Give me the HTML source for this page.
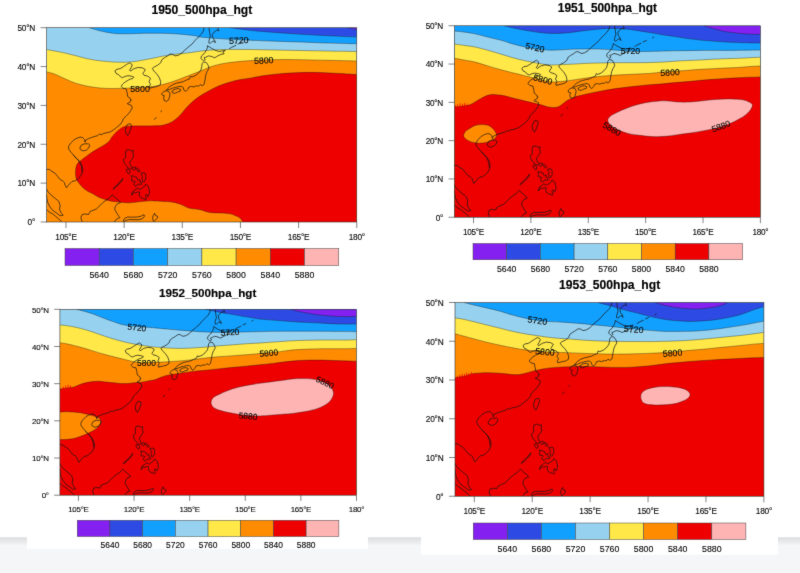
<!DOCTYPE html>
<html><head><meta charset="utf-8"><title>500hpa hgt</title>
<style>
html,body{margin:0;padding:0;background:#fff}
svg{display:block}
text{font-family:"Liberation Sans",Arial,Helvetica,sans-serif;fill:#0a0a0a;stroke:#0a0a0a;stroke-width:.12px}
.t{stroke:#000;stroke-width:.15px}
.c2,.y{letter-spacing:-.25px}
.t{font-weight:bold;text-anchor:middle;fill:#000}
.c{text-anchor:middle}
.y{text-anchor:end}
.k{stroke:#333;stroke-width:.6;fill:none}
.cn{stroke:#1a1a1a;stroke-width:.45;fill:none;stroke-opacity:.8}
.co{stroke:#161616;stroke-width:.72;fill:none;stroke-linejoin:round;stroke-linecap:round}
</style></head><body>
<svg width="800" height="573" viewBox="0 0 800 573">
<defs>
<linearGradient id="gb" x1="0" y1="0" x2="0" y2="1"><stop offset="0" stop-color="#dcdddf"/><stop offset=".1" stop-color="#e6e7e9"/><stop offset=".2" stop-color="#f1f2f4"/><stop offset=".22" stop-color="#f4f6f8"/><stop offset="1" stop-color="#f4f6f8"/></linearGradient>
</defs>
<filter id="soft" x="-2%" y="-2%" width="104%" height="104%" color-interpolation-filters="sRGB"><feConvolveMatrix order="3" kernelMatrix="0.0081 0.0738 0.0081 0.0738 0.6724 0.0738 0.0081 0.0738 0.0081" divisor="1" edgeMode="duplicate" preserveAlpha="true"/></filter>
<g filter="url(#soft)">
<rect x="-20" y="-20" width="840" height="613" fill="#fff"/>
<rect x="-20" y="537.25" width="840" height="36" fill="url(#gb)"/>
<rect x="-20" y="573" width="840" height="20" fill="#f4f6f8"/>
<rect x="27" y="283" width="341" height="265.8" fill="#fff"/>
<rect x="421" y="283" width="357" height="271.6" fill="#fff"/>

<g id="panel1">
<clipPath id="cp0"><rect x="46.6" y="27.7" width="310.15" height="194.30"/></clipPath>
<g clip-path="url(#cp0)">
<rect x="46.6" y="27.7" width="310.15" height="194.30" fill="#96D2F0"/>
<path d="M89.0,27.7C90.8,28.2 96.1,29.8 100.0,30.8C103.9,31.7 108.3,32.8 112.5,33.2C116.7,33.8 118.8,33.8 125.0,33.8C131.2,33.8 141.7,33.2 150.0,33.2C158.3,33.2 167.5,33.3 175.0,33.8C182.5,34.2 190.8,35.2 195.0,35.8C199.2,36.3 195.0,36.5 200.0,37.0C205.0,37.5 216.7,38.5 225.0,39.0C233.3,39.5 241.7,39.9 250.0,40.2C258.3,40.6 266.7,41.0 275.0,41.2C283.3,41.5 291.7,41.7 300.0,42.0C308.3,42.3 315.5,42.7 325.0,43.0C334.5,43.3 351.5,43.6 356.8,43.8L356.8,27.7Z" fill="#12A0FF"/>
<path d="M89.0,27.7C90.8,28.2 96.1,29.8 100.0,30.8C103.9,31.7 108.3,32.8 112.5,33.2C116.7,33.8 118.8,33.8 125.0,33.8C131.2,33.8 141.7,33.2 150.0,33.2C158.3,33.2 167.5,33.3 175.0,33.8C182.5,34.2 190.8,35.2 195.0,35.8C199.2,36.3 195.0,36.5 200.0,37.0C205.0,37.5 216.7,38.5 225.0,39.0C233.3,39.5 241.7,39.9 250.0,40.2C258.3,40.6 266.7,41.0 275.0,41.2C283.3,41.5 291.7,41.7 300.0,42.0C308.3,42.3 315.5,42.7 325.0,43.0C334.5,43.3 351.5,43.6 356.8,43.8" class="cn"/>
<path d="M229.0,27.7C230.8,27.9 236.5,28.6 240.0,29.0C243.5,29.4 246.7,29.9 250.0,30.3C253.3,30.7 254.2,30.8 260.0,31.3C265.8,31.8 276.7,32.6 285.0,33.2C293.3,33.8 301.7,34.3 310.0,34.8C318.3,35.3 327.2,35.7 335.0,36.1C342.8,36.5 353.1,36.9 356.8,37.0L356.8,27.7Z" fill="#2D4BE4"/>
<path d="M229.0,27.7C230.8,27.9 236.5,28.6 240.0,29.0C243.5,29.4 246.7,29.9 250.0,30.3C253.3,30.7 254.2,30.8 260.0,31.3C265.8,31.8 276.7,32.6 285.0,33.2C293.3,33.8 301.7,34.3 310.0,34.8C318.3,35.3 327.2,35.7 335.0,36.1C342.8,36.5 353.1,36.9 356.8,37.0" class="cn"/>
<path d="M347.5,27.7 L356.8,29.5L356.8,27.7Z" fill="#8420F0"/>
<path d="M347.5,27.7 L356.8,29.5" class="cn"/>
<path d="M46.6,49.5C49.2,50.0 57.8,51.5 62.5,52.5C67.2,53.5 70.8,54.5 75.0,55.5C79.2,56.5 83.3,57.9 87.5,58.8C91.7,59.6 95.0,60.2 100.0,60.8C105.0,61.3 112.1,62.1 117.5,62.2C122.9,62.4 127.1,62.3 132.5,61.8C137.9,61.2 145.0,59.7 150.0,58.8C155.0,57.8 158.3,57.0 162.5,56.2C166.7,55.5 170.8,54.8 175.0,54.2C179.2,53.7 183.3,53.5 187.5,53.0C191.7,52.5 195.8,51.8 200.0,51.2C204.2,50.8 208.3,50.3 212.5,50.0C216.7,49.7 218.8,49.6 225.0,49.5C231.2,49.4 241.7,49.4 250.0,49.5C258.3,49.6 266.7,49.8 275.0,50.0C283.3,50.2 291.7,50.3 300.0,50.5C308.3,50.7 315.5,50.8 325.0,51.0C334.5,51.2 351.5,51.4 356.8,51.5L356.8,222.0 L46.6,222.0Z" fill="#FFE848"/>
<path d="M46.6,49.5C49.2,50.0 57.8,51.5 62.5,52.5C67.2,53.5 70.8,54.5 75.0,55.5C79.2,56.5 83.3,57.9 87.5,58.8C91.7,59.6 95.0,60.2 100.0,60.8C105.0,61.3 112.1,62.1 117.5,62.2C122.9,62.4 127.1,62.3 132.5,61.8C137.9,61.2 145.0,59.7 150.0,58.8C155.0,57.8 158.3,57.0 162.5,56.2C166.7,55.5 170.8,54.8 175.0,54.2C179.2,53.7 183.3,53.5 187.5,53.0C191.7,52.5 195.8,51.8 200.0,51.2C204.2,50.8 208.3,50.3 212.5,50.0C216.7,49.7 218.8,49.6 225.0,49.5C231.2,49.4 241.7,49.4 250.0,49.5C258.3,49.6 266.7,49.8 275.0,50.0C283.3,50.2 291.7,50.3 300.0,50.5C308.3,50.7 315.5,50.8 325.0,51.0C334.5,51.2 351.5,51.4 356.8,51.5" class="cn"/>
<path d="M46.6,71.8C48.0,72.2 51.9,73.1 55.0,74.2C58.1,75.4 61.7,77.3 65.0,78.8C68.3,80.2 71.2,81.8 75.0,83.0C78.8,84.2 83.3,85.4 87.5,86.2C91.7,87.1 95.8,87.6 100.0,88.0C104.2,88.4 108.3,88.5 112.5,88.5C116.7,88.5 120.4,88.4 125.0,88.2C129.6,88.1 135.0,87.8 140.0,87.5C145.0,87.2 150.0,87.1 155.0,86.2C160.0,85.4 165.0,84.0 170.0,82.5C175.0,81.0 180.0,78.9 185.0,77.0C190.0,75.1 195.8,72.9 200.0,71.2C204.2,69.6 206.7,68.2 210.0,67.0C213.3,65.8 216.7,65.0 220.0,64.2C223.3,63.5 225.8,63.0 230.0,62.5C234.2,62.0 239.6,61.4 245.0,61.0C250.4,60.6 255.4,60.2 262.5,60.0C269.6,59.8 279.2,59.5 287.5,59.5C295.8,59.5 304.2,59.8 312.5,60.0C320.8,60.2 330.1,60.3 337.5,60.5C344.9,60.7 353.5,60.9 356.8,61.0L356.8,222.0 L46.6,222.0Z" fill="#FF8C00"/>
<path d="M46.6,71.8C48.0,72.2 51.9,73.1 55.0,74.2C58.1,75.4 61.7,77.3 65.0,78.8C68.3,80.2 71.2,81.8 75.0,83.0C78.8,84.2 83.3,85.4 87.5,86.2C91.7,87.1 95.8,87.6 100.0,88.0C104.2,88.4 108.3,88.5 112.5,88.5C116.7,88.5 120.4,88.4 125.0,88.2C129.6,88.1 135.0,87.8 140.0,87.5C145.0,87.2 150.0,87.1 155.0,86.2C160.0,85.4 165.0,84.0 170.0,82.5C175.0,81.0 180.0,78.9 185.0,77.0C190.0,75.1 195.8,72.9 200.0,71.2C204.2,69.6 206.7,68.2 210.0,67.0C213.3,65.8 216.7,65.0 220.0,64.2C223.3,63.5 225.8,63.0 230.0,62.5C234.2,62.0 239.6,61.4 245.0,61.0C250.4,60.6 255.4,60.2 262.5,60.0C269.6,59.8 279.2,59.5 287.5,59.5C295.8,59.5 304.2,59.8 312.5,60.0C320.8,60.2 330.1,60.3 337.5,60.5C344.9,60.7 353.5,60.9 356.8,61.0" class="cn"/>
<path d="M356.8,74.5C354.0,74.3 346.1,73.8 340.0,73.5C333.9,73.2 326.7,72.7 320.0,72.5C313.3,72.3 306.7,72.3 300.0,72.5C293.3,72.7 286.2,73.2 280.0,73.8C273.8,74.3 267.5,75.0 262.5,75.8C257.5,76.5 253.7,77.6 250.0,78.2C246.3,78.8 243.8,78.9 240.5,79.5C237.2,80.1 234.0,81.0 230.4,82.0C226.8,83.0 222.6,84.3 219.0,85.8C215.4,87.2 212.1,89.1 209.0,90.8C205.9,92.5 203.0,94.0 200.3,95.8C197.6,97.6 195.0,99.5 192.7,101.5C190.4,103.5 188.5,105.4 186.4,107.7C184.3,110.0 182.3,113.0 180.0,115.3C177.7,117.6 175.5,119.8 172.6,121.5C169.7,123.2 166.3,124.5 162.5,125.3C158.7,126.0 154.1,125.9 150.0,126.0C145.9,126.1 142.1,125.9 138.0,126.0C133.9,126.1 128.2,125.9 125.3,126.4C122.3,126.9 122.0,127.8 120.3,128.9C118.6,130.1 116.8,131.8 115.3,133.3C113.8,134.8 112.7,136.2 111.5,137.7C110.3,139.2 109.9,140.7 108.4,142.1C106.9,143.5 104.7,144.7 102.7,145.9C100.7,147.2 98.5,148.3 96.4,149.6C94.3,150.8 92.1,152.1 90.2,153.4C88.3,154.7 86.8,155.9 85.1,157.2C83.4,158.5 81.5,159.8 80.2,161.0C78.9,162.2 77.8,162.9 77.1,164.2C76.4,165.5 76.0,166.8 75.8,168.6C75.5,170.4 75.5,173.0 75.6,174.8C75.7,176.6 75.9,177.8 76.4,179.2C77.0,180.6 77.9,181.6 78.9,183.0C80.0,184.4 81.2,186.0 82.7,187.4C84.2,188.8 86.0,190.1 87.7,191.2C89.4,192.2 91.1,192.8 92.8,193.7C94.5,194.6 96.1,196.0 97.8,196.8C99.5,197.6 100.8,198.0 102.8,198.7C104.8,199.4 107.8,200.4 110.0,200.9C112.2,201.4 114.2,201.6 116.3,201.8C118.4,202.1 120.5,202.2 122.6,202.4C124.7,202.6 126.8,202.8 128.9,202.8C131.0,202.8 133.1,202.4 135.2,202.2C137.3,202.0 139.4,201.8 141.5,201.6C143.6,201.4 145.6,201.0 147.7,200.9C149.8,200.8 151.9,200.9 154.0,200.9C156.1,200.9 158.2,201.1 160.3,201.2C162.4,201.3 164.5,201.4 166.6,201.6C168.7,201.8 171.0,201.9 172.9,202.2C174.8,202.5 176.2,202.9 177.9,203.4C179.6,203.9 181.2,204.6 182.9,205.3C184.6,206.0 186.2,207.2 187.9,207.8C189.6,208.4 191.0,208.5 193.0,208.8C195.0,209.1 197.2,209.1 200.0,209.7C202.8,210.3 206.7,211.9 210.0,212.5C213.3,213.1 216.7,212.8 220.0,213.0C223.3,213.2 227.5,213.3 230.0,213.8C232.5,214.2 233.3,214.8 235.0,215.5C236.7,216.2 238.7,216.9 240.0,218.0C241.3,219.1 242.5,221.3 243.0,222.0L356.8,222.0Z" fill="#EE0000"/>
<path d="M356.8,74.5C354.0,74.3 346.1,73.8 340.0,73.5C333.9,73.2 326.7,72.7 320.0,72.5C313.3,72.3 306.7,72.3 300.0,72.5C293.3,72.7 286.2,73.2 280.0,73.8C273.8,74.3 267.5,75.0 262.5,75.8C257.5,76.5 253.7,77.6 250.0,78.2C246.3,78.8 243.8,78.9 240.5,79.5C237.2,80.1 234.0,81.0 230.4,82.0C226.8,83.0 222.6,84.3 219.0,85.8C215.4,87.2 212.1,89.1 209.0,90.8C205.9,92.5 203.0,94.0 200.3,95.8C197.6,97.6 195.0,99.5 192.7,101.5C190.4,103.5 188.5,105.4 186.4,107.7C184.3,110.0 182.3,113.0 180.0,115.3C177.7,117.6 175.5,119.8 172.6,121.5C169.7,123.2 166.3,124.5 162.5,125.3C158.7,126.0 154.1,125.9 150.0,126.0C145.9,126.1 142.1,125.9 138.0,126.0C133.9,126.1 128.2,125.9 125.3,126.4C122.3,126.9 122.0,127.8 120.3,128.9C118.6,130.1 116.8,131.8 115.3,133.3C113.8,134.8 112.7,136.2 111.5,137.7C110.3,139.2 109.9,140.7 108.4,142.1C106.9,143.5 104.7,144.7 102.7,145.9C100.7,147.2 98.5,148.3 96.4,149.6C94.3,150.8 92.1,152.1 90.2,153.4C88.3,154.7 86.8,155.9 85.1,157.2C83.4,158.5 81.5,159.8 80.2,161.0C78.9,162.2 77.8,162.9 77.1,164.2C76.4,165.5 76.0,166.8 75.8,168.6C75.5,170.4 75.5,173.0 75.6,174.8C75.7,176.6 75.9,177.8 76.4,179.2C77.0,180.6 77.9,181.6 78.9,183.0C80.0,184.4 81.2,186.0 82.7,187.4C84.2,188.8 86.0,190.1 87.7,191.2C89.4,192.2 91.1,192.8 92.8,193.7C94.5,194.6 96.1,196.0 97.8,196.8C99.5,197.6 100.8,198.0 102.8,198.7C104.8,199.4 107.8,200.4 110.0,200.9C112.2,201.4 114.2,201.6 116.3,201.8C118.4,202.1 120.5,202.2 122.6,202.4C124.7,202.6 126.8,202.8 128.9,202.8C131.0,202.8 133.1,202.4 135.2,202.2C137.3,202.0 139.4,201.8 141.5,201.6C143.6,201.4 145.6,201.0 147.7,200.9C149.8,200.8 151.9,200.9 154.0,200.9C156.1,200.9 158.2,201.1 160.3,201.2C162.4,201.3 164.5,201.4 166.6,201.6C168.7,201.8 171.0,201.9 172.9,202.2C174.8,202.5 176.2,202.9 177.9,203.4C179.6,203.9 181.2,204.6 182.9,205.3C184.6,206.0 186.2,207.2 187.9,207.8C189.6,208.4 191.0,208.5 193.0,208.8C195.0,209.1 197.2,209.1 200.0,209.7C202.8,210.3 206.7,211.9 210.0,212.5C213.3,213.1 216.7,212.8 220.0,213.0C223.3,213.2 227.5,213.3 230.0,213.8C232.5,214.2 233.3,214.8 235.0,215.5C236.7,216.2 238.7,216.9 240.0,218.0C241.3,219.1 242.5,221.3 243.0,222.0" class="cn"/>
<path d="M111.0,138.0L111.5,136.4L112.0,138.0ZM112.9,135.8L113.4,134.2L113.9,135.8ZM114.8,133.6L115.3,132.0L115.8,133.6ZM116.5,132.1L117.0,130.5L117.5,132.1ZM118.1,130.7L118.6,129.1L119.1,130.7ZM119.8,129.2L120.3,127.6L120.8,129.2ZM122.3,128.0L122.8,126.4L123.3,128.0ZM124.8,126.7L125.3,125.1L125.8,126.7ZM127.3,126.6L127.8,125.0L128.3,126.6ZM129.9,126.5L130.4,124.9L130.9,126.5ZM132.4,126.5L132.9,124.9L133.4,126.5ZM135.0,126.4L135.5,124.8L136.0,126.4ZM137.5,126.3L138.0,124.7L138.5,126.3ZM139.9,126.3L140.4,124.7L140.9,126.3ZM142.3,126.3L142.8,124.7L143.3,126.3ZM144.7,126.3L145.2,124.7L145.7,126.3ZM147.1,126.3L147.6,124.7L148.1,126.3ZM149.5,126.3L150.0,124.7L150.5,126.3ZM152.0,126.2L152.5,124.7L153.0,126.2ZM154.5,126.2L155.0,124.6L155.5,126.2ZM157.0,126.1L157.5,124.5L158.0,126.1Z" fill="#EE0000"/>
<path class="co" d="M204.0,28.0 L203.4,30.9 L201.5,34.0 L198.4,37.1 L195.2,40.3 L192.1,44.0 L188.3,47.1 L184.5,50.3 L182.0,53.0 L178.3,55.3 L175.1,55.9 L172.6,54.3 L170.1,54.0 L167.6,55.9 L164.4,57.8 L161.9,59.7 L160.7,62.8 L157.5,65.3 L153.8,67.2 L152.3,68.4 L153.8,70.9 L156.9,74.1 L159.4,77.8 L160.7,81.6 L160.4,84.7 L157.5,86.3 L153.8,87.2 L150.0,88.1 M150.0,87.7 L149.0,87.1 L150.5,84.2 L149.0,81.7 L150.5,78.3 L147.8,76.2 L144.0,75.2 L142.8,73.7 L144.3,71.4 L145.3,69.6 L142.5,67.9 L138.4,67.4 L134.2,68.6 L130.4,71.1 L129.7,69.9 L131.5,67.1 L132.2,64.7 L129.7,62.7 L126.4,64.6 L123.3,66.7 L120.1,68.7 L117.0,69.2 L114.9,70.9 L116.1,73.5 L118.6,74.7 L120.4,76.7 L122.4,77.7 L124.9,76.5 L127.9,75.7 L131.5,76.2 L134.0,77.2 L132.7,78.5 L129.9,79.2 L127.1,80.8 L124.2,82.7 L122.2,84.6 L121.2,86.5 L122.9,88.2 L126.2,89.0 L127.1,92.7 L127.7,96.5 L129.9,98.0 L130.8,100.0 M131.0,99.9 L130.3,101.8 L127.2,103.7 L131.6,105.6 L132.2,108.1 L130.3,111.2 L128.5,113.7 L126.0,116.2 L123.4,118.7 L122.2,121.8 L119.7,125.0 L116.5,127.5 L113.4,130.0 L110.2,131.9 L107.1,132.7 L103.3,133.5 L100.8,135.0 L99.6,133.7 L97.7,135.6 L94.5,136.5 L91.4,137.5 L88.3,138.7 L85.8,140.0 L85.1,142.2 L84.5,139.4 L82.6,137.5 L80.1,137.1 L77.0,138.1 L73.8,140.0 L70.7,143.1 L68.5,146.3 L68.8,149.4 L71.3,152.5 L74.4,156.3 L77.6,159.4 L79.8,162.5 L81.4,166.3 L82.0,171.7 M73.9,155.7 L76.4,158.2 L79.6,161.4 L81.5,164.5 L82.7,168.3 L82.5,172.0 L80.8,175.8 L77.7,178.9 L75.2,180.8 L72.0,181.4 L69.5,183.9 L66.4,187.7 L65.1,185.2 L64.5,182.7 L62.6,180.8 L60.1,179.5 L57.6,176.4 L55.1,173.3 L51.9,171.4 L49.4,169.5 L46.5,169.3 M46.5,188.9 L48.2,192.0 L51.3,195.2 L55.1,198.3 L58.8,201.4 L60.1,205.2 L59.5,209.6 L61.4,213.3 L63.2,215.2 L60.1,215.8 L57.0,213.3 L53.2,210.8 L50.1,207.1 L47.8,202.7 L46.9,198.3 L46.5,194.5 M46.5,209.6 L49.4,212.1 L52.6,213.9 L55.7,216.4 L58.8,219.0 L61.4,221.5 M82.1,221.5 L80.8,217.7 L82.1,214.6 L85.2,213.9 L88.4,214.6 L90.2,211.4 L93.4,210.2 L96.5,208.9 L99.7,205.8 L102.8,202.7 L106.0,200.2 L109.1,198.3 L112.2,194.8 L115.4,197.7 L119.1,200.8 L120.4,202.7 L117.3,203.9 L115.4,206.4 L114.7,209.6 L116.6,212.7 L118.5,215.8 L119.8,217.7 L116.6,219.0 L114.7,221.5 M80.1,147.5 L81.4,145.0 L84.5,143.8 L88.3,143.8 L89.8,145.0 L88.6,148.1 L86.4,150.0 L83.2,151.0 L80.7,149.8Z M127.8,124.3 L130.3,123.7 L131.6,125.6 L130.6,129.4 L129.1,133.1 L127.6,135.6 L126.0,133.1 L125.3,130.0 L126.3,126.9Z M160.7,111.7 L161.7,110.8 M154.4,119.2 L156.3,117.7 M126.6,150.1 L128.5,149.7 L130.4,150.3 L132.0,151.0 L133.2,150.3 L133.3,151.7 L132.9,153.5 L133.7,155.4 L133.2,157.3 L132.0,159.2 L130.7,160.7 L129.8,162.6 L130.4,164.8 L131.2,166.7 L132.3,167.6 L133.5,167.0 L135.1,167.3 L136.7,168.1 L138.2,168.6 L139.2,169.8 L140.1,171.1 L139.2,171.8 L137.9,171.4 L137.0,169.8 L136.0,168.9 L135.1,168.6 L134.6,169.8 L133.8,170.4 L132.9,169.2 L132.0,167.9 L130.7,168.9 L129.3,168.7 L128.2,168.1 L127.6,167.3 L126.6,165.7 L125.4,164.8 L124.4,163.2 L123.8,161.4 L123.3,159.5 L124.4,158.9 L125.4,157.9 L125.8,156.0 L125.4,154.2 L125.7,152.3Z M127.2,169.1 L128.5,169.5 L130.1,170.8 L129.9,172.9 L128.9,174.1 L127.9,173.3 L126.9,171.7 L126.3,170.1Z M141.4,173.1 L143.3,172.8 L145.1,173.4 L145.8,175.3 L145.5,177.2 L146.1,178.8 L144.8,179.7 L144.5,181.3 L143.3,181.9 L142.0,181.3 L142.6,179.7 L141.7,178.5 L142.6,176.6 L141.7,175.0Z M131.3,175.9 L133.5,175.9 L135.1,176.9 L136.7,177.2 L137.0,178.8 L138.2,180.3 L139.2,179.1 L139.8,180.6 L140.1,182.2 L141.4,182.8 L141.7,184.1 L140.1,184.4 L138.6,184.1 L137.0,185.0 L136.0,186.3 L134.8,185.6 L133.8,184.4 L134.5,182.8 L135.4,181.9 L134.5,181.0 L132.9,181.3 L131.3,180.6 L131.6,179.1 L132.0,177.5Z M131.6,194.7 L132.1,192.8 L132.9,191.3 L134.5,190.3 L136.0,189.1 L137.3,188.2 L138.9,188.8 L139.8,189.7 L141.4,188.5 L142.9,187.5 L144.5,186.3 L145.5,184.4 L147.0,185.0 L148.3,186.6 L148.9,188.5 L149.4,191.0 L149.5,193.2 L148.6,195.3 L148.0,196.6 L147.0,194.7 L146.1,194.4 L145.5,196.0 L146.4,197.9 L145.8,199.7 L144.2,198.8 L142.6,198.5 L140.8,197.5 L139.5,196.0 L139.2,194.1 L139.8,192.5 L138.6,191.9 L137.0,192.2 L135.7,193.2 L134.5,192.2 L133.2,192.8 L132.6,194.4Z M113.2,188.4 L115.7,186.1 L118.8,183.0 L121.6,179.9 L122.6,178.4 L122.2,180.5 L119.5,183.6 L116.3,186.7 L113.8,188.9Z M123.2,221.0 L124.5,218.5 L127.6,217.0 L132.7,217.2 L137.7,217.0 L141.5,216.0 L144.0,214.7 L144.6,216.2 L142.7,218.5 L138.9,219.7 L133.9,219.7 L129.5,219.5 L126.4,220.3 L123.9,221.6 M153.4,221.2 L152.5,217.8 L153.4,215.3 L154.6,213.2 L155.3,215.3 L157.2,216.0 L157.5,217.8 L155.9,219.7 L154.3,221.2 M209.0,28.0 L209.7,32.7 L210.3,36.5 L209.0,40.3 L208.8,42.8 L210.3,43.4 L212.2,41.5 L214.1,40.9 L215.3,42.8 L214.7,40.3 L212.8,37.8 L212.2,34.6 L214.1,32.1 L216.6,30.2 L218.8,30.9 L217.8,28.0 M207.8,45.9 L211.6,48.4 L215.3,50.3 L219.1,51.5 L222.2,50.9 L225.4,50.3 L222.9,52.1 L224.1,53.8 L221.0,54.3 L217.8,55.9 L214.7,57.8 L211.6,56.5 L208.4,55.9 L205.9,57.2 L204.0,57.8 L205.3,59.7 L203.4,60.9 L200.9,58.4 L201.5,55.9 L204.0,53.8 L205.9,50.9 L207.2,48.4Z M229.4,48.8 L231.7,47.3 L235.7,45.5 M237.9,44.0 L241.1,42.8 M247.4,40.0 L248.7,39.1 M203.4,62.2 L202.1,63.8 L201.8,66.6 L200.9,70.1 L198.4,73.2 L195.2,75.7 L192.1,77.0 L190.2,76.4 L189.6,78.9 L186.4,80.1 L183.3,81.6 L180.1,82.4 L176.4,83.2 L173.2,84.5 L170.1,86.4 L167.6,88.6 L166.3,90.1 L169.5,89.5 L172.6,88.2 L175.7,87.4 L178.9,86.6 L181.4,86.4 L183.3,87.6 L183.9,90.1 L185.8,91.4 L187.7,89.5 L188.9,87.0 L191.5,86.4 L194.0,87.0 L196.5,85.7 L198.4,86.4 L200.2,84.5 L202.1,85.7 L204.0,84.5 L204.6,82.0 L205.3,78.2 L205.9,74.5 L207.2,71.3 L209.0,68.2 L208.4,65.7 L206.5,62.8Z M172.6,90.8 L175.1,89.1 L178.3,88.6 L180.8,89.5 L180.1,91.4 L177.6,92.0 L175.1,93.3 L172.6,92.9 L172.0,91.4Z M161.9,93.6 L163.8,91.4 L166.3,90.8 L168.8,91.4 L170.1,93.9 L169.5,97.0 L168.6,99.9 L166.3,101.4 L164.1,100.4 L163.6,97.6 L164.4,95.8 L162.6,95.1Z"/>
</g>
<rect x="46.6" y="27.7" width="310.15" height="194.30" class="k"/>
<path class="k" d="M65.98,222.0v6.0 M124.14,222.0v6.0 M182.29,222.0v6.0 M240.44,222.0v6.0 M298.60,222.0v6.0 M356.75,222.0v6.0 M46.6,222.00h-6.0 M46.6,183.14h-6.0 M46.6,144.28h-6.0 M46.6,105.42h-6.0 M46.6,66.56h-6.0 M46.6,27.70h-6.0"/>
<text class="c c2" x="66.0" y="239.6" font-size="8.3">105°E</text>
<text class="c c2" x="124.1" y="239.6" font-size="8.3">120°E</text>
<text class="c c2" x="182.3" y="239.6" font-size="8.3">135°E</text>
<text class="c c2" x="240.4" y="239.6" font-size="8.3">150°E</text>
<text class="c c2" x="298.6" y="239.6" font-size="8.3">165°E</text>
<text class="c c2" x="356.8" y="239.6" font-size="8.3">180°</text>
<text class="y" x="35.0" y="225.3" font-size="8.3">0°</text>
<text class="y" x="35.0" y="186.4" font-size="8.3">10°N</text>
<text class="y" x="35.0" y="147.6" font-size="8.3">20°N</text>
<text class="y" x="35.0" y="108.7" font-size="8.3">30°N</text>
<text class="y" x="35.0" y="69.8" font-size="8.3">40°N</text>
<text class="y" x="35.0" y="31.0" font-size="8.3">50°N</text>
<text class="t" x="201.85" y="14.35" font-size="12.1">1950_500hpa_hgt</text>
<text class="c" x="238.75" y="43.4" font-size="8.8" transform="rotate(-3 238.75 40.2)">5720</text>
<text class="c" x="263.75" y="63.4" font-size="8.8" transform="rotate(-3 263.75 60.2)">5800</text>
<text class="c" x="140" y="92.0" font-size="8.8" transform="rotate(0 140 88.8)">5800</text>
<rect x="65.00" y="248.5" width="34.22" height="17.00" fill="#8420F0" stroke="#444" stroke-width=".5"/>
<rect x="99.22" y="248.5" width="34.22" height="17.00" fill="#2D4BE4" stroke="#444" stroke-width=".5"/>
<rect x="133.44" y="248.5" width="34.22" height="17.00" fill="#12A0FF" stroke="#444" stroke-width=".5"/>
<rect x="167.66" y="248.5" width="34.22" height="17.00" fill="#96D2F0" stroke="#444" stroke-width=".5"/>
<rect x="201.88" y="248.5" width="34.22" height="17.00" fill="#FFE848" stroke="#444" stroke-width=".5"/>
<rect x="236.10" y="248.5" width="34.22" height="17.00" fill="#FF8C00" stroke="#444" stroke-width=".5"/>
<rect x="270.32" y="248.5" width="34.22" height="17.00" fill="#EE0000" stroke="#444" stroke-width=".5"/>
<rect x="304.54" y="248.5" width="34.22" height="17.00" fill="#FFB4B4" stroke="#444" stroke-width=".5"/>
<text class="c" x="99.2" y="277.5" font-size="8.8">5640</text>
<text class="c" x="133.4" y="277.5" font-size="8.8">5680</text>
<text class="c" x="167.7" y="277.5" font-size="8.8">5720</text>
<text class="c" x="201.9" y="277.5" font-size="8.8">5760</text>
<text class="c" x="236.1" y="277.5" font-size="8.8">5800</text>
<text class="c" x="270.3" y="277.5" font-size="8.8">5840</text>
<text class="c" x="304.5" y="277.5" font-size="8.8">5880</text>
</g>
<g id="panel2">
<clipPath id="cp1"><rect x="454.4" y="25.75" width="306.00" height="191.50"/></clipPath>
<g clip-path="url(#cp1)">
<rect x="454.4" y="25.75" width="306.00" height="191.50" fill="#12A0FF"/>
<path d="M504.0,25.8C505.5,26.1 509.2,27.0 512.8,27.8C516.4,28.6 521.2,29.6 525.4,30.3C529.6,31.1 533.9,31.8 538.0,32.3C542.1,32.8 545.9,33.2 550.0,33.4C554.1,33.5 558.4,33.5 562.6,33.2C566.8,33.0 570.9,32.4 575.1,31.9C579.3,31.4 583.5,30.8 587.7,30.3C591.9,29.8 596.8,29.3 600.3,29.0C603.8,28.7 604.8,28.5 609.0,28.5C613.2,28.5 620.6,28.6 625.4,29.0C630.2,29.4 633.9,30.1 638.0,30.7C642.1,31.3 645.9,31.9 650.0,32.6C654.1,33.3 658.4,34.1 662.6,34.8C666.8,35.5 670.9,36.0 675.1,36.6C679.3,37.2 683.5,38.0 687.7,38.6C691.9,39.2 696.1,39.7 700.3,40.1C704.5,40.5 708.6,40.8 712.8,41.1C717.0,41.4 721.2,41.8 725.4,42.0C729.6,42.2 733.9,42.5 738.0,42.6C742.1,42.8 746.3,42.8 750.0,42.9C753.7,43.0 758.7,43.0 760.4,43.0L760.4,25.8Z" fill="#2D4BE4"/>
<path d="M504.0,25.8C505.5,26.1 509.2,27.0 512.8,27.8C516.4,28.6 521.2,29.6 525.4,30.3C529.6,31.1 533.9,31.8 538.0,32.3C542.1,32.8 545.9,33.2 550.0,33.4C554.1,33.5 558.4,33.5 562.6,33.2C566.8,33.0 570.9,32.4 575.1,31.9C579.3,31.4 583.5,30.8 587.7,30.3C591.9,29.8 596.8,29.3 600.3,29.0C603.8,28.7 604.8,28.5 609.0,28.5C613.2,28.5 620.6,28.6 625.4,29.0C630.2,29.4 633.9,30.1 638.0,30.7C642.1,31.3 645.9,31.9 650.0,32.6C654.1,33.3 658.4,34.1 662.6,34.8C666.8,35.5 670.9,36.0 675.1,36.6C679.3,37.2 683.5,38.0 687.7,38.6C691.9,39.2 696.1,39.7 700.3,40.1C704.5,40.5 708.6,40.8 712.8,41.1C717.0,41.4 721.2,41.8 725.4,42.0C729.6,42.2 733.9,42.5 738.0,42.6C742.1,42.8 746.3,42.8 750.0,42.9C753.7,43.0 758.7,43.0 760.4,43.0" class="cn"/>
<path d="M704.0,25.8C705.5,26.2 709.2,27.5 712.8,28.5C716.4,29.5 721.2,30.8 725.4,31.6C729.6,32.4 733.9,32.8 738.0,33.2C742.1,33.6 746.3,33.9 750.0,34.1C753.7,34.3 758.7,34.4 760.4,34.5L760.4,25.8Z" fill="#8420F0"/>
<path d="M704.0,25.8C705.5,26.2 709.2,27.5 712.8,28.5C716.4,29.5 721.2,30.8 725.4,31.6C729.6,32.4 733.9,32.8 738.0,33.2C742.1,33.6 746.3,33.9 750.0,34.1C753.7,34.3 758.7,34.4 760.4,34.5" class="cn"/>
<path d="M454.4,31.1C456.2,31.2 461.6,31.7 465.0,32.2C468.4,32.7 471.2,33.0 475.0,33.8C478.8,34.6 483.5,36.0 487.7,37.0C491.9,38.0 496.1,39.0 500.3,40.1C504.5,41.2 508.6,42.8 512.8,43.9C517.0,45.0 521.2,46.1 525.4,47.0C529.6,47.9 533.9,48.8 538.0,49.3C542.1,49.8 545.9,50.1 550.0,50.2C554.1,50.3 558.4,50.0 562.6,49.8C566.8,49.6 570.9,49.2 575.1,49.1C579.3,49.0 583.5,48.9 587.7,48.9C591.9,48.9 596.1,48.9 600.3,49.1C604.5,49.3 608.6,49.6 612.8,49.9C617.0,50.2 621.2,50.5 625.4,50.8C629.6,51.0 633.9,51.3 638.0,51.4C642.1,51.5 643.8,51.5 650.0,51.4C656.2,51.3 666.7,51.0 675.0,50.8C683.3,50.6 691.7,50.5 700.0,50.4C708.3,50.3 716.7,50.4 725.0,50.4C733.3,50.4 744.1,50.2 750.0,50.2C755.9,50.2 758.7,50.1 760.4,50.1L760.4,217.2 L454.4,217.2Z" fill="#96D2F0"/>
<path d="M454.4,31.1C456.2,31.2 461.6,31.7 465.0,32.2C468.4,32.7 471.2,33.0 475.0,33.8C478.8,34.6 483.5,36.0 487.7,37.0C491.9,38.0 496.1,39.0 500.3,40.1C504.5,41.2 508.6,42.8 512.8,43.9C517.0,45.0 521.2,46.1 525.4,47.0C529.6,47.9 533.9,48.8 538.0,49.3C542.1,49.8 545.9,50.1 550.0,50.2C554.1,50.3 558.4,50.0 562.6,49.8C566.8,49.6 570.9,49.2 575.1,49.1C579.3,49.0 583.5,48.9 587.7,48.9C591.9,48.9 596.1,48.9 600.3,49.1C604.5,49.3 608.6,49.6 612.8,49.9C617.0,50.2 621.2,50.5 625.4,50.8C629.6,51.0 633.9,51.3 638.0,51.4C642.1,51.5 643.8,51.5 650.0,51.4C656.2,51.3 666.7,51.0 675.0,50.8C683.3,50.6 691.7,50.5 700.0,50.4C708.3,50.3 716.7,50.4 725.0,50.4C733.3,50.4 744.1,50.2 750.0,50.2C755.9,50.2 758.7,50.1 760.4,50.1" class="cn"/>
<path d="M454.4,44.1C456.2,44.3 461.6,45.0 465.0,45.5C468.4,46.0 471.3,46.2 475.1,47.0C478.9,47.8 483.5,49.1 487.7,50.2C491.9,51.4 496.1,52.6 500.3,53.9C504.5,55.1 508.6,56.6 512.8,57.7C517.0,58.9 521.2,59.9 525.4,60.8C529.6,61.7 533.9,62.6 538.0,63.3C542.1,64.0 545.9,64.8 550.0,65.0C554.1,65.2 558.4,64.8 562.6,64.6C566.8,64.4 570.9,64.2 575.1,64.0C579.3,63.8 583.5,63.5 587.7,63.3C591.9,63.1 596.1,63.1 600.3,63.0C604.5,62.9 608.6,62.8 612.8,62.7C617.0,62.7 621.2,62.7 625.4,62.7C629.6,62.7 633.9,62.7 638.0,62.7C642.1,62.7 645.9,62.6 650.0,62.5C654.1,62.4 658.4,62.3 662.6,62.1C666.8,61.9 670.9,61.5 675.1,61.2C679.3,60.9 683.5,60.7 687.7,60.5C691.9,60.3 696.1,60.2 700.3,60.0C704.5,59.8 708.6,59.4 712.8,59.2C717.0,59.0 721.2,58.9 725.4,58.7C729.6,58.6 733.9,58.5 738.0,58.3C742.1,58.1 746.3,57.9 750.0,57.7C753.7,57.5 758.7,57.3 760.4,57.2L760.4,217.2 L454.4,217.2Z" fill="#FFE848"/>
<path d="M454.4,44.1C456.2,44.3 461.6,45.0 465.0,45.5C468.4,46.0 471.3,46.2 475.1,47.0C478.9,47.8 483.5,49.1 487.7,50.2C491.9,51.4 496.1,52.6 500.3,53.9C504.5,55.1 508.6,56.6 512.8,57.7C517.0,58.9 521.2,59.9 525.4,60.8C529.6,61.7 533.9,62.6 538.0,63.3C542.1,64.0 545.9,64.8 550.0,65.0C554.1,65.2 558.4,64.8 562.6,64.6C566.8,64.4 570.9,64.2 575.1,64.0C579.3,63.8 583.5,63.5 587.7,63.3C591.9,63.1 596.1,63.1 600.3,63.0C604.5,62.9 608.6,62.8 612.8,62.7C617.0,62.7 621.2,62.7 625.4,62.7C629.6,62.7 633.9,62.7 638.0,62.7C642.1,62.7 645.9,62.6 650.0,62.5C654.1,62.4 658.4,62.3 662.6,62.1C666.8,61.9 670.9,61.5 675.1,61.2C679.3,60.9 683.5,60.7 687.7,60.5C691.9,60.3 696.1,60.2 700.3,60.0C704.5,59.8 708.6,59.4 712.8,59.2C717.0,59.0 721.2,58.9 725.4,58.7C729.6,58.6 733.9,58.5 738.0,58.3C742.1,58.1 746.3,57.9 750.0,57.7C753.7,57.5 758.7,57.3 760.4,57.2" class="cn"/>
<path d="M454.4,58.3C456.2,58.6 461.6,59.6 465.0,60.2C468.4,60.8 471.3,61.1 475.1,62.1C478.9,63.1 483.5,64.7 487.7,65.9C491.9,67.2 496.1,68.4 500.3,69.6C504.5,70.8 508.6,71.8 512.8,72.8C517.0,73.8 521.2,74.9 525.4,75.9C529.6,76.9 533.9,78.0 538.0,79.0C542.1,80.0 545.9,81.4 550.0,81.8C554.1,82.2 558.4,81.6 562.6,81.3C566.8,81.0 570.9,80.3 575.1,79.7C579.3,79.1 583.5,78.4 587.7,77.8C591.9,77.2 596.1,76.7 600.3,76.3C604.5,75.9 608.6,75.6 612.8,75.3C617.0,75.0 621.2,74.8 625.4,74.6C629.6,74.4 633.9,74.2 638.0,74.0C642.1,73.8 645.9,73.7 650.0,73.4C654.1,73.1 658.4,72.4 662.6,72.1C666.8,71.8 670.9,71.6 675.1,71.3C679.3,71.0 683.5,70.6 687.7,70.3C691.9,70.0 696.1,69.6 700.3,69.3C704.5,69.0 708.6,68.9 712.8,68.7C717.0,68.5 721.2,68.2 725.4,68.0C729.6,67.8 733.9,67.8 738.0,67.5C742.1,67.2 746.3,66.8 750.0,66.5C753.7,66.2 758.7,66.1 760.4,66.0L760.4,217.2 L454.4,217.2Z" fill="#FF8C00"/>
<path d="M454.4,58.3C456.2,58.6 461.6,59.6 465.0,60.2C468.4,60.8 471.3,61.1 475.1,62.1C478.9,63.1 483.5,64.7 487.7,65.9C491.9,67.2 496.1,68.4 500.3,69.6C504.5,70.8 508.6,71.8 512.8,72.8C517.0,73.8 521.2,74.9 525.4,75.9C529.6,76.9 533.9,78.0 538.0,79.0C542.1,80.0 545.9,81.4 550.0,81.8C554.1,82.2 558.4,81.6 562.6,81.3C566.8,81.0 570.9,80.3 575.1,79.7C579.3,79.1 583.5,78.4 587.7,77.8C591.9,77.2 596.1,76.7 600.3,76.3C604.5,75.9 608.6,75.6 612.8,75.3C617.0,75.0 621.2,74.8 625.4,74.6C629.6,74.4 633.9,74.2 638.0,74.0C642.1,73.8 645.9,73.7 650.0,73.4C654.1,73.1 658.4,72.4 662.6,72.1C666.8,71.8 670.9,71.6 675.1,71.3C679.3,71.0 683.5,70.6 687.7,70.3C691.9,70.0 696.1,69.6 700.3,69.3C704.5,69.0 708.6,68.9 712.8,68.7C717.0,68.5 721.2,68.2 725.4,68.0C729.6,67.8 733.9,67.8 738.0,67.5C742.1,67.2 746.3,66.8 750.0,66.5C753.7,66.2 758.7,66.1 760.4,66.0" class="cn"/>
<path d="M454.4,107.0C455.3,106.9 457.6,106.8 460.0,106.5C462.4,106.2 466.3,105.8 468.8,105.1C471.3,104.3 473.0,103.2 475.1,102.0C477.2,100.8 479.3,99.3 481.4,98.2C483.5,97.1 485.8,95.9 487.7,95.3C489.6,94.7 490.6,94.4 492.7,94.4C494.8,94.4 498.0,94.8 500.3,95.1C502.6,95.4 504.4,95.8 506.5,96.3C508.6,96.8 510.7,97.5 512.8,98.0C514.9,98.5 517.0,99.0 519.1,99.5C521.2,100.0 523.3,100.6 525.4,101.1C527.5,101.6 529.6,102.1 531.7,102.6C533.8,103.1 535.9,103.6 538.0,104.1C540.1,104.6 542.5,105.3 544.2,105.8C545.9,106.3 546.6,106.6 548.0,106.9C549.4,107.2 551.0,107.4 552.6,107.4C554.2,107.4 555.9,107.7 557.6,107.1C559.3,106.5 560.9,105.1 562.6,103.9C564.3,102.8 565.9,101.2 567.6,100.2C569.3,99.2 571.0,98.6 572.7,97.9C574.4,97.2 574.8,96.9 577.7,96.1C580.6,95.3 586.1,94.1 590.3,93.2C594.5,92.3 598.6,91.5 602.8,90.7C607.0,89.9 611.2,89.2 615.4,88.6C619.6,88.0 623.9,87.5 628.0,87.0C632.1,86.5 636.3,86.1 640.0,85.7C643.7,85.3 646.2,85.0 650.0,84.7C653.8,84.4 658.4,84.2 662.6,83.8C666.8,83.4 670.9,83.0 675.1,82.6C679.3,82.2 683.5,82.0 687.7,81.6C691.9,81.2 696.1,80.7 700.3,80.3C704.5,79.9 708.6,79.6 712.8,79.3C717.0,79.0 721.2,78.7 725.4,78.4C729.6,78.2 733.9,78.0 738.0,77.8C742.1,77.6 746.3,77.3 750.0,77.2C753.7,77.1 758.7,77.0 760.4,76.9L760.4,217.2 L454.4,217.2Z" fill="#EE0000"/>
<path d="M454.4,107.0C455.3,106.9 457.6,106.8 460.0,106.5C462.4,106.2 466.3,105.8 468.8,105.1C471.3,104.3 473.0,103.2 475.1,102.0C477.2,100.8 479.3,99.3 481.4,98.2C483.5,97.1 485.8,95.9 487.7,95.3C489.6,94.7 490.6,94.4 492.7,94.4C494.8,94.4 498.0,94.8 500.3,95.1C502.6,95.4 504.4,95.8 506.5,96.3C508.6,96.8 510.7,97.5 512.8,98.0C514.9,98.5 517.0,99.0 519.1,99.5C521.2,100.0 523.3,100.6 525.4,101.1C527.5,101.6 529.6,102.1 531.7,102.6C533.8,103.1 535.9,103.6 538.0,104.1C540.1,104.6 542.5,105.3 544.2,105.8C545.9,106.3 546.6,106.6 548.0,106.9C549.4,107.2 551.0,107.4 552.6,107.4C554.2,107.4 555.9,107.7 557.6,107.1C559.3,106.5 560.9,105.1 562.6,103.9C564.3,102.8 565.9,101.2 567.6,100.2C569.3,99.2 571.0,98.6 572.7,97.9C574.4,97.2 574.8,96.9 577.7,96.1C580.6,95.3 586.1,94.1 590.3,93.2C594.5,92.3 598.6,91.5 602.8,90.7C607.0,89.9 611.2,89.2 615.4,88.6C619.6,88.0 623.9,87.5 628.0,87.0C632.1,86.5 636.3,86.1 640.0,85.7C643.7,85.3 646.2,85.0 650.0,84.7C653.8,84.4 658.4,84.2 662.6,83.8C666.8,83.4 670.9,83.0 675.1,82.6C679.3,82.2 683.5,82.0 687.7,81.6C691.9,81.2 696.1,80.7 700.3,80.3C704.5,79.9 708.6,79.6 712.8,79.3C717.0,79.0 721.2,78.7 725.4,78.4C729.6,78.2 733.9,78.0 738.0,77.8C742.1,77.6 746.3,77.3 750.0,77.2C753.7,77.1 758.7,77.0 760.4,76.9" class="cn"/>
<path d="M463.6,135.3C463.7,134.2 464.6,132.6 465.5,131.5C466.4,130.4 467.2,130.0 468.8,129.0C470.4,128.0 473.0,126.2 475.1,125.5C477.2,124.8 479.3,124.6 481.4,124.6C483.5,124.5 485.8,124.6 487.7,125.2C489.6,125.8 491.3,127.1 492.7,128.4C494.1,129.7 495.3,131.6 495.9,132.8C496.5,134.1 496.8,134.9 496.5,135.9C496.2,136.9 495.2,138.1 494.0,139.0C492.8,139.9 490.9,140.9 489.0,141.6C487.1,142.3 485.0,142.8 482.7,143.0C480.4,143.2 477.4,143.2 475.1,142.8C472.8,142.5 470.5,141.7 468.8,140.9C467.1,140.1 465.7,138.9 464.8,138.0C463.9,137.1 463.5,136.4 463.6,135.3Z" fill="#FF8C00" class="cn" style="fill:#FF8C00"/>
<path d="M607.8,120.3C607.7,118.8 608.7,117.7 610.0,116.5C611.3,115.3 613.4,114.3 615.4,113.3C617.4,112.2 619.6,111.1 621.7,110.2C623.8,109.3 625.9,108.5 628.0,107.7C630.1,106.9 632.2,106.2 634.2,105.6C636.2,105.0 637.4,104.5 640.0,103.9C642.6,103.3 645.8,102.5 650.0,102.0C654.2,101.5 660.4,100.8 665.0,100.8C669.6,100.8 673.4,101.8 677.6,102.0C681.8,102.2 685.9,102.2 690.1,102.0C694.3,101.8 698.5,101.2 702.7,100.8C706.9,100.3 711.1,99.8 715.3,99.5C719.5,99.2 723.6,98.9 727.8,98.9C732.0,98.9 737.0,99.1 740.4,99.5C743.8,99.9 745.9,100.6 747.9,101.4C749.9,102.2 751.8,103.2 752.3,104.5C752.8,105.8 751.9,107.3 751.0,108.9C750.1,110.5 748.5,112.3 746.7,113.9C744.9,115.5 743.5,116.5 740.4,118.3C737.2,120.1 732.0,122.9 727.8,124.6C723.6,126.3 719.5,127.4 715.3,128.4C711.1,129.5 706.9,130.1 702.7,130.9C698.5,131.7 694.3,132.4 690.1,133.0C685.9,133.6 681.8,134.1 677.6,134.7C673.4,135.2 669.3,136.0 665.0,136.3C660.7,136.6 656.2,136.8 652.0,136.6C647.8,136.4 644.0,135.8 640.0,135.3C636.0,134.8 631.8,134.4 628.0,133.4C624.2,132.4 619.9,130.8 617.0,129.5C614.1,128.2 611.9,126.8 610.4,125.3C608.9,123.8 607.9,121.8 607.8,120.3Z" fill="#FFB4B4" class="cn" style="fill:#FFB4B4"/>
<path d="M454.90,107.7L455.25,105.0L455.75,105.0L456.10,107.7ZM457.20,107.4L457.55,104.0L458.05,104.0L458.40,107.4ZM459.50,107.1L459.85,103.0L460.35,103.0L460.70,107.1ZM461.80,106.7L462.15,103.7L462.65,103.7L463.00,106.7ZM464.10,106.4L464.45,102.7L464.95,102.7L465.30,106.4ZM466.40,106.1L466.75,103.4L467.25,103.4L467.60,106.1Z" fill="#EE0000"/>
<path class="co" d="M609.7,26.0 L609.1,28.9 L607.2,32.0 L604.1,35.0 L601.0,38.1 L597.9,41.8 L594.2,44.9 L590.5,48.0 L588.0,50.7 L584.3,52.9 L581.2,53.5 L578.7,51.9 L576.2,51.7 L573.8,53.5 L570.7,55.4 L568.2,57.2 L566.9,60.3 L563.8,62.8 L560.1,64.6 L558.6,65.9 L560.1,68.4 L563.2,71.4 L565.7,75.1 L566.9,78.8 L566.7,81.9 L563.8,83.5 L560.1,84.4 L556.4,85.3 M556.5,84.9 L555.5,84.3 L557.0,81.5 L555.5,79.0 L557.0,75.7 L554.2,73.6 L550.5,72.6 L549.3,71.1 L550.8,68.9 L551.8,67.0 L549.0,65.4 L544.9,64.9 L540.8,66.0 L537.1,68.5 L536.4,67.4 L538.1,64.6 L538.9,62.2 L536.4,60.2 L533.2,62.1 L530.1,64.2 L527.0,66.2 L523.9,66.6 L521.8,68.4 L523.0,70.8 L525.5,72.1 L527.2,74.1 L529.2,75.0 L531.7,73.8 L534.6,73.1 L538.1,73.6 L540.6,74.5 L539.4,75.8 L536.6,76.5 L533.8,78.1 L530.9,80.0 L528.9,81.8 L528.0,83.7 L529.7,85.4 L532.9,86.1 L533.8,89.8 L534.4,93.5 L536.6,95.0 L537.5,97.0 M537.6,96.9 L537.0,98.8 L533.9,100.6 L538.3,102.5 L538.9,105.0 L537.0,108.1 L535.2,110.5 L532.7,113.0 L530.2,115.5 L529.0,118.5 L526.5,121.6 L523.4,124.1 L520.3,126.6 L517.2,128.4 L514.1,129.3 L510.4,130.0 L507.9,131.5 L506.7,130.3 L504.8,132.1 L501.7,133.0 L498.6,134.0 L495.5,135.2 L493.0,136.4 L492.4,138.6 L491.8,135.8 L489.9,134.0 L487.5,133.6 L484.4,134.6 L481.3,136.4 L478.2,139.5 L476.0,142.6 L476.3,145.7 L478.8,148.8 L481.9,152.5 L485.0,155.6 L487.2,158.6 L488.7,162.3 L489.3,167.6 M481.4,151.9 L483.8,154.4 L486.9,157.5 L488.8,160.6 L490.0,164.3 L489.8,168.0 L488.2,171.7 L485.1,174.8 L482.6,176.6 L479.5,177.2 L477.0,179.7 L473.9,183.4 L472.7,180.9 L472.1,178.5 L470.2,176.6 L467.7,175.4 L465.2,172.3 L462.8,169.2 L459.7,167.4 L457.2,165.5 L454.3,165.3 M454.3,184.6 L455.9,187.7 L459.0,190.8 L462.8,193.9 L466.5,197.0 L467.7,200.7 L467.1,205.0 L469.0,208.7 L470.8,210.5 L467.7,211.2 L464.6,208.7 L460.9,206.2 L457.8,202.5 L455.6,198.2 L454.7,193.9 L454.3,190.2 M454.3,205.0 L457.2,207.5 L460.3,209.3 L463.4,211.8 L466.5,214.2 L469.0,216.7 M489.4,216.7 L488.2,213.0 L489.4,209.9 L492.5,209.3 L495.6,209.9 L497.5,206.8 L500.6,205.6 L503.7,204.4 L506.8,201.3 L509.9,198.2 L513.0,195.7 L516.1,193.9 L519.2,190.4 L522.3,193.3 L526.0,196.4 L527.2,198.2 L524.1,199.4 L522.3,201.9 L521.6,205.0 L523.5,208.1 L525.4,211.2 L526.6,213.0 L523.5,214.2 L521.6,216.7 M487.5,143.8 L488.7,141.4 L491.8,140.1 L495.5,140.1 L497.0,141.4 L495.9,144.4 L493.6,146.3 L490.5,147.3 L488.1,146.1Z M534.5,121.0 L537.0,120.4 L538.3,122.2 L537.3,125.9 L535.8,129.6 L534.3,132.1 L532.7,129.6 L532.1,126.6 L533.1,123.5Z M566.9,108.5 L567.9,107.6 M560.8,115.9 L562.6,114.4 M533.3,146.4 L535.2,146.0 L537.1,146.6 L538.6,147.3 L539.9,146.6 L540.0,147.9 L539.5,149.8 L540.4,151.6 L539.9,153.5 L538.6,155.3 L537.4,156.9 L536.4,158.7 L537.1,160.9 L537.9,162.7 L538.9,163.7 L540.2,163.0 L541.7,163.3 L543.3,164.1 L544.8,164.6 L545.7,165.8 L546.7,167.0 L545.7,167.8 L544.5,167.4 L543.6,165.8 L542.6,164.9 L541.7,164.6 L541.2,165.8 L540.5,166.4 L539.5,165.2 L538.6,164.0 L537.4,164.9 L536.0,164.7 L534.9,164.1 L534.3,163.3 L533.3,161.8 L532.1,160.9 L531.2,159.3 L530.6,157.5 L530.1,155.6 L531.2,155.0 L532.1,154.1 L532.5,152.2 L532.1,150.4 L532.4,148.5Z M534.0,165.1 L535.2,165.5 L536.8,166.7 L536.6,168.9 L535.6,170.0 L534.6,169.2 L533.7,167.7 L533.0,166.1Z M547.9,169.1 L549.8,168.8 L551.6,169.4 L552.2,171.2 L551.9,173.1 L552.6,174.6 L551.3,175.6 L551.0,177.1 L549.8,177.7 L548.5,177.1 L549.2,175.6 L548.2,174.3 L549.2,172.5 L548.2,170.9Z M538.0,171.9 L540.2,171.9 L541.7,172.8 L543.3,173.1 L543.6,174.6 L544.8,176.2 L545.7,174.9 L546.4,176.5 L546.7,178.0 L547.9,178.6 L548.2,179.9 L546.7,180.2 L545.1,179.9 L543.6,180.8 L542.6,182.0 L541.4,181.4 L540.5,180.2 L541.1,178.6 L542.0,177.7 L541.1,176.8 L539.5,177.1 L538.0,176.5 L538.3,174.9 L538.6,173.4Z M538.3,190.4 L538.7,188.5 L539.5,187.0 L541.1,186.0 L542.6,184.8 L543.9,183.9 L545.4,184.5 L546.4,185.4 L547.9,184.2 L549.5,183.3 L551.0,182.0 L551.9,180.2 L553.5,180.8 L554.7,182.3 L555.3,184.2 L555.8,186.7 L556.0,188.8 L555.0,191.0 L554.4,192.2 L553.5,190.4 L552.6,190.1 L551.9,191.6 L552.9,193.5 L552.2,195.3 L550.7,194.4 L549.2,194.1 L547.3,193.1 L546.1,191.6 L545.7,189.8 L546.4,188.2 L545.1,187.6 L543.6,187.9 L542.3,188.8 L541.1,187.9 L539.9,188.5 L539.2,190.1Z M520.1,184.1 L522.6,181.9 L525.7,178.8 L528.4,175.7 L529.4,174.2 L529.0,176.3 L526.3,179.4 L523.2,182.5 L520.7,184.6Z M530.0,216.2 L531.3,213.8 L534.4,212.3 L539.3,212.5 L544.3,212.3 L548.0,211.3 L550.5,210.1 L551.1,211.5 L549.2,213.8 L545.5,215.0 L540.5,215.0 L536.2,214.7 L533.1,215.6 L530.6,216.8 M559.8,216.5 L558.9,213.1 L559.8,210.7 L561.0,208.6 L561.6,210.7 L563.5,211.3 L563.8,213.1 L562.2,215.0 L560.6,216.5 M614.7,26.0 L615.3,30.7 L615.9,34.4 L614.7,38.1 L614.4,40.6 L615.9,41.2 L617.8,39.4 L619.6,38.7 L620.9,40.6 L620.2,38.1 L618.4,35.7 L617.8,32.6 L619.6,30.1 L622.1,28.3 L624.3,28.9 L623.3,26.0 M613.4,43.7 L617.1,46.1 L620.9,48.0 L624.6,49.2 L627.7,48.6 L630.8,48.0 L628.3,49.8 L629.5,51.4 L626.4,51.9 L623.3,53.5 L620.2,55.4 L617.1,54.2 L614.0,53.5 L611.6,54.8 L609.7,55.4 L610.9,57.2 L609.1,58.5 L606.6,56.0 L607.2,53.5 L609.7,51.4 L611.6,48.6 L612.8,46.1Z M634.7,46.5 L637.0,45.0 L640.9,43.3 M643.2,41.8 L646.3,40.6 M652.5,37.9 L653.8,37.0 M609.1,59.8 L607.8,61.4 L607.5,64.1 L606.6,67.5 L604.1,70.6 L601.0,73.1 L597.9,74.3 L596.1,73.7 L595.5,76.2 L592.4,77.4 L589.3,78.9 L586.2,79.6 L582.4,80.5 L579.3,81.7 L576.2,83.6 L573.8,85.8 L572.5,87.3 L575.6,86.7 L578.7,85.4 L581.8,84.6 L584.9,83.8 L587.4,83.6 L589.3,84.8 L589.9,87.3 L591.7,88.5 L593.6,86.7 L594.8,84.2 L597.3,83.6 L599.8,84.2 L602.3,83.0 L604.1,83.6 L606.0,81.7 L607.8,83.0 L609.7,81.7 L610.3,79.3 L610.9,75.6 L611.6,71.9 L612.8,68.8 L614.7,65.7 L614.0,63.2 L612.2,60.4Z M578.7,87.9 L581.2,86.3 L584.3,85.8 L586.8,86.7 L586.2,88.5 L583.7,89.1 L581.2,90.4 L578.7,90.0 L578.1,88.5Z M568.2,90.7 L570.0,88.5 L572.5,87.9 L575.0,88.5 L576.2,91.0 L575.6,94.1 L574.8,96.9 L572.5,98.4 L570.3,97.4 L569.8,94.7 L570.7,92.8 L568.8,92.2Z"/>
</g>
<rect x="454.4" y="25.75" width="306.00" height="191.50" class="k"/>
<path class="k" d="M473.52,217.25v5.9 M530.90,217.25v5.9 M588.27,217.25v5.9 M645.65,217.25v5.9 M703.02,217.25v5.9 M760.40,217.25v5.9 M454.4,217.25h-5.9 M454.4,178.95h-5.9 M454.4,140.65h-5.9 M454.4,102.35h-5.9 M454.4,64.05h-5.9 M454.4,25.75h-5.9"/>
<text class="c c2" x="473.5" y="234.6" font-size="8.2">105°E</text>
<text class="c c2" x="530.9" y="234.6" font-size="8.2">120°E</text>
<text class="c c2" x="588.3" y="234.6" font-size="8.2">135°E</text>
<text class="c c2" x="645.6" y="234.6" font-size="8.2">150°E</text>
<text class="c c2" x="703.0" y="234.6" font-size="8.2">165°E</text>
<text class="c c2" x="760.4" y="234.6" font-size="8.2">180°</text>
<text class="y" x="443.0" y="220.5" font-size="8.2">0°</text>
<text class="y" x="443.0" y="182.2" font-size="8.2">10°N</text>
<text class="y" x="443.0" y="143.9" font-size="8.2">20°N</text>
<text class="y" x="443.0" y="105.6" font-size="8.2">30°N</text>
<text class="y" x="443.0" y="67.3" font-size="8.2">40°N</text>
<text class="y" x="443.0" y="29.0" font-size="8.2">50°N</text>
<text class="t" x="607.4" y="12.15" font-size="11.9">1951_500hpa_hgt</text>
<text class="c" x="535" y="50.6" font-size="8.7" transform="rotate(12 535 47.5)">5720</text>
<text class="c" x="543" y="82.6" font-size="8.7" transform="rotate(15 543 79.5)">5800</text>
<text class="c" x="630.5" y="53.9" font-size="8.7" transform="rotate(0 630.5 50.75)">5720</text>
<text class="c" x="670" y="75.6" font-size="8.7" transform="rotate(-3 670 72.5)">5800</text>
<text class="c" x="612" y="131.9" font-size="8.7" transform="rotate(30 612 128.75)">5880</text>
<text class="c" x="721" y="129.4" font-size="8.7" transform="rotate(-20 721 126.25)">5880</text>
<rect x="473.00" y="243.5" width="33.70" height="16.25" fill="#8420F0" stroke="#444" stroke-width=".5"/>
<rect x="506.70" y="243.5" width="33.70" height="16.25" fill="#2D4BE4" stroke="#444" stroke-width=".5"/>
<rect x="540.40" y="243.5" width="33.70" height="16.25" fill="#12A0FF" stroke="#444" stroke-width=".5"/>
<rect x="574.10" y="243.5" width="33.70" height="16.25" fill="#96D2F0" stroke="#444" stroke-width=".5"/>
<rect x="607.80" y="243.5" width="33.70" height="16.25" fill="#FFE848" stroke="#444" stroke-width=".5"/>
<rect x="641.50" y="243.5" width="33.70" height="16.25" fill="#FF8C00" stroke="#444" stroke-width=".5"/>
<rect x="675.20" y="243.5" width="33.70" height="16.25" fill="#EE0000" stroke="#444" stroke-width=".5"/>
<rect x="708.90" y="243.5" width="33.70" height="16.25" fill="#FFB4B4" stroke="#444" stroke-width=".5"/>
<text class="c" x="506.7" y="271.9" font-size="8.7">5640</text>
<text class="c" x="540.4" y="271.9" font-size="8.7">5680</text>
<text class="c" x="574.1" y="271.9" font-size="8.7">5720</text>
<text class="c" x="607.8" y="271.9" font-size="8.7">5760</text>
<text class="c" x="641.5" y="271.9" font-size="8.7">5800</text>
<text class="c" x="675.2" y="271.9" font-size="8.7">5840</text>
<text class="c" x="708.9" y="271.9" font-size="8.7">5880</text>
</g>
<g id="panel3">
<clipPath id="cp2"><rect x="59.9" y="309.3" width="296.60" height="185.90"/></clipPath>
<g clip-path="url(#cp2)">
<rect x="59.9" y="309.3" width="296.60" height="185.90" fill="#96D2F0"/>
<path d="M76.4,309.3C78.1,309.7 83.7,311.1 86.4,311.9C89.1,312.6 90.6,313.1 92.7,313.8C94.8,314.5 96.9,315.5 99.0,316.3C101.1,317.1 103.2,318.0 105.3,318.8C107.4,319.6 109.4,320.4 111.5,321.1C113.6,321.8 115.7,322.6 117.8,323.2C119.9,323.8 121.1,324.4 124.1,324.9C127.1,325.4 131.8,326.0 136.0,326.4C140.2,326.8 146.0,327.1 149.2,327.4C152.4,327.6 151.9,327.6 155.0,327.9C158.1,328.2 163.4,328.7 167.6,329.1C171.8,329.5 175.9,329.9 180.1,330.2C184.3,330.5 188.5,330.9 192.7,331.2C196.9,331.5 201.1,331.8 205.3,332.0C209.5,332.2 213.7,332.3 217.8,332.4C221.9,332.4 225.8,332.4 230.0,332.3C234.2,332.2 238.7,332.1 242.9,332.0C247.1,331.9 249.7,331.8 255.0,331.7C260.4,331.6 267.5,331.4 275.0,331.3C282.5,331.2 291.7,331.2 300.0,331.2C308.3,331.2 315.6,331.2 325.0,331.3C334.4,331.4 351.2,331.6 356.5,331.7L356.5,309.3Z" fill="#12A0FF"/>
<path d="M76.4,309.3C78.1,309.7 83.7,311.1 86.4,311.9C89.1,312.6 90.6,313.1 92.7,313.8C94.8,314.5 96.9,315.5 99.0,316.3C101.1,317.1 103.2,318.0 105.3,318.8C107.4,319.6 109.4,320.4 111.5,321.1C113.6,321.8 115.7,322.6 117.8,323.2C119.9,323.8 121.1,324.4 124.1,324.9C127.1,325.4 131.8,326.0 136.0,326.4C140.2,326.8 146.0,327.1 149.2,327.4C152.4,327.6 151.9,327.6 155.0,327.9C158.1,328.2 163.4,328.7 167.6,329.1C171.8,329.5 175.9,329.9 180.1,330.2C184.3,330.5 188.5,330.9 192.7,331.2C196.9,331.5 201.1,331.8 205.3,332.0C209.5,332.2 213.7,332.3 217.8,332.4C221.9,332.4 225.8,332.4 230.0,332.3C234.2,332.2 238.7,332.1 242.9,332.0C247.1,331.9 249.7,331.8 255.0,331.7C260.4,331.6 267.5,331.4 275.0,331.3C282.5,331.2 291.7,331.2 300.0,331.2C308.3,331.2 315.6,331.2 325.0,331.3C334.4,331.4 351.2,331.6 356.5,331.7" class="cn"/>
<path d="M205.3,309.3C207.4,309.7 213.6,311.1 217.8,311.9C222.0,312.7 226.2,313.4 230.4,314.1C234.6,314.8 238.8,315.6 242.9,316.3C247.0,317.0 252.2,317.7 255.0,318.2C257.9,318.7 257.1,318.8 260.0,319.1C262.9,319.4 268.4,319.8 272.6,320.1C276.8,320.4 280.9,320.8 285.1,321.1C289.3,321.4 293.5,321.8 297.7,322.0C301.9,322.2 306.1,322.4 310.3,322.6C314.5,322.8 318.6,323.0 322.8,323.2C327.0,323.4 331.2,323.8 335.4,323.9C339.6,324.0 344.5,324.1 348.0,324.1C351.5,324.1 355.1,324.1 356.5,324.1L356.5,309.3Z" fill="#2D4BE4"/>
<path d="M205.3,309.3C207.4,309.7 213.6,311.1 217.8,311.9C222.0,312.7 226.2,313.4 230.4,314.1C234.6,314.8 238.8,315.6 242.9,316.3C247.0,317.0 252.2,317.7 255.0,318.2C257.9,318.7 257.1,318.8 260.0,319.1C262.9,319.4 268.4,319.8 272.6,320.1C276.8,320.4 280.9,320.8 285.1,321.1C289.3,321.4 293.5,321.8 297.7,322.0C301.9,322.2 306.1,322.4 310.3,322.6C314.5,322.8 318.6,323.0 322.8,323.2C327.0,323.4 331.2,323.8 335.4,323.9C339.6,324.0 344.5,324.1 348.0,324.1C351.5,324.1 355.1,324.1 356.5,324.1" class="cn"/>
<path d="M290.2,309.3C291.4,309.6 294.3,310.6 297.7,311.3C301.1,312.0 306.1,312.9 310.3,313.6C314.5,314.3 318.6,314.9 322.8,315.3C327.0,315.8 331.2,316.1 335.4,316.3C339.6,316.5 344.5,316.6 348.0,316.6C351.5,316.6 355.1,316.4 356.5,316.3L356.5,309.3Z" fill="#8420F0"/>
<path d="M290.2,309.3C291.4,309.6 294.3,310.6 297.7,311.3C301.1,312.0 306.1,312.9 310.3,313.6C314.5,314.3 318.6,314.9 322.8,315.3C327.0,315.8 331.2,316.1 335.4,316.3C339.6,316.5 344.5,316.6 348.0,316.6C351.5,316.6 355.1,316.4 356.5,316.3" class="cn"/>
<path d="M59.9,324.9C61.2,325.0 64.2,325.2 67.6,325.8C71.0,326.3 75.9,327.3 80.1,328.3C84.3,329.3 88.5,330.6 92.7,332.0C96.9,333.4 101.1,335.0 105.3,336.4C109.5,337.8 113.6,339.0 117.8,340.2C122.0,341.4 126.2,342.4 130.4,343.3C134.6,344.2 138.8,344.9 142.9,345.5C147.0,346.1 150.9,346.7 155.0,347.1C159.1,347.5 163.4,347.8 167.6,348.0C171.8,348.2 175.9,348.4 180.1,348.4C184.3,348.4 188.5,348.2 192.7,348.0C196.9,347.8 201.1,347.5 205.3,347.1C209.5,346.8 213.6,346.2 217.8,345.9C222.0,345.5 226.2,345.3 230.4,345.0C234.6,344.7 238.8,344.3 242.9,344.0C247.0,343.7 250.1,343.6 255.0,343.3C259.9,343.0 267.6,342.5 272.6,342.1C277.6,341.8 280.9,341.5 285.1,341.2C289.3,340.9 293.5,340.7 297.7,340.5C301.9,340.3 306.1,340.3 310.3,340.2C314.5,340.1 318.6,340.0 322.8,340.0C327.0,340.0 331.2,340.0 335.4,340.0C339.6,340.0 344.5,340.1 348.0,340.0C351.5,339.9 355.1,339.7 356.5,339.6L356.5,495.2 L59.9,495.2Z" fill="#FFE848"/>
<path d="M59.9,324.9C61.2,325.0 64.2,325.2 67.6,325.8C71.0,326.3 75.9,327.3 80.1,328.3C84.3,329.3 88.5,330.6 92.7,332.0C96.9,333.4 101.1,335.0 105.3,336.4C109.5,337.8 113.6,339.0 117.8,340.2C122.0,341.4 126.2,342.4 130.4,343.3C134.6,344.2 138.8,344.9 142.9,345.5C147.0,346.1 150.9,346.7 155.0,347.1C159.1,347.5 163.4,347.8 167.6,348.0C171.8,348.2 175.9,348.4 180.1,348.4C184.3,348.4 188.5,348.2 192.7,348.0C196.9,347.8 201.1,347.5 205.3,347.1C209.5,346.8 213.6,346.2 217.8,345.9C222.0,345.5 226.2,345.3 230.4,345.0C234.6,344.7 238.8,344.3 242.9,344.0C247.0,343.7 250.1,343.6 255.0,343.3C259.9,343.0 267.6,342.5 272.6,342.1C277.6,341.8 280.9,341.5 285.1,341.2C289.3,340.9 293.5,340.7 297.7,340.5C301.9,340.3 306.1,340.3 310.3,340.2C314.5,340.1 318.6,340.0 322.8,340.0C327.0,340.0 331.2,340.0 335.4,340.0C339.6,340.0 344.5,340.1 348.0,340.0C351.5,339.9 355.1,339.7 356.5,339.6" class="cn"/>
<path d="M59.9,342.7C61.2,342.9 64.2,343.3 67.6,344.0C71.0,344.7 75.9,346.0 80.1,347.1C84.3,348.2 88.5,349.6 92.7,350.9C96.9,352.1 101.1,353.5 105.3,354.6C109.5,355.8 113.6,356.8 117.8,357.8C122.0,358.9 127.2,360.2 130.4,360.9C133.6,361.6 134.3,361.9 136.7,362.2C139.1,362.5 141.9,362.8 145.0,362.8C148.1,362.8 151.2,362.5 155.0,362.3C158.8,362.1 163.4,362.0 167.6,361.8C171.8,361.6 175.9,361.2 180.1,360.9C184.3,360.5 188.5,360.2 192.7,359.7C196.9,359.2 201.1,358.5 205.3,358.0C209.5,357.5 213.6,357.2 217.8,356.8C222.0,356.4 226.2,356.2 230.4,355.9C234.6,355.6 238.8,355.3 242.9,355.0C247.0,354.7 251.3,354.3 255.0,354.0C258.7,353.7 261.0,353.4 265.0,353.0C269.0,352.6 275.4,352.2 278.8,351.8C282.2,351.4 282.0,351.3 285.1,350.9C288.2,350.5 293.5,349.9 297.7,349.6C301.9,349.3 306.1,349.1 310.3,349.0C314.5,348.9 318.6,348.8 322.8,348.7C327.0,348.6 331.2,348.7 335.4,348.7C339.6,348.7 344.5,348.8 348.0,348.7C351.5,348.6 355.1,348.4 356.5,348.4L356.5,495.2 L59.9,495.2Z" fill="#FF8C00"/>
<path d="M59.9,342.7C61.2,342.9 64.2,343.3 67.6,344.0C71.0,344.7 75.9,346.0 80.1,347.1C84.3,348.2 88.5,349.6 92.7,350.9C96.9,352.1 101.1,353.5 105.3,354.6C109.5,355.8 113.6,356.8 117.8,357.8C122.0,358.9 127.2,360.2 130.4,360.9C133.6,361.6 134.3,361.9 136.7,362.2C139.1,362.5 141.9,362.8 145.0,362.8C148.1,362.8 151.2,362.5 155.0,362.3C158.8,362.1 163.4,362.0 167.6,361.8C171.8,361.6 175.9,361.2 180.1,360.9C184.3,360.5 188.5,360.2 192.7,359.7C196.9,359.2 201.1,358.5 205.3,358.0C209.5,357.5 213.6,357.2 217.8,356.8C222.0,356.4 226.2,356.2 230.4,355.9C234.6,355.6 238.8,355.3 242.9,355.0C247.0,354.7 251.3,354.3 255.0,354.0C258.7,353.7 261.0,353.4 265.0,353.0C269.0,352.6 275.4,352.2 278.8,351.8C282.2,351.4 282.0,351.3 285.1,350.9C288.2,350.5 293.5,349.9 297.7,349.6C301.9,349.3 306.1,349.1 310.3,349.0C314.5,348.9 318.6,348.8 322.8,348.7C327.0,348.6 331.2,348.7 335.4,348.7C339.6,348.7 344.5,348.8 348.0,348.7C351.5,348.6 355.1,348.4 356.5,348.4" class="cn"/>
<path d="M59.9,388.8C60.9,388.7 63.7,388.5 66.0,388.2C68.3,387.9 71.5,387.6 73.8,387.0C76.1,386.4 78.0,385.1 80.1,384.4C82.2,383.7 84.3,383.1 86.4,382.6C88.5,382.1 90.6,381.8 92.7,381.6C94.8,381.4 96.9,381.2 99.0,381.3C101.1,381.4 103.2,381.7 105.3,381.9C107.4,382.1 109.4,382.4 111.5,382.6C113.6,382.8 115.7,383.0 117.8,383.2C119.9,383.4 122.0,383.6 124.1,383.6C126.2,383.6 128.3,383.4 130.4,383.2C132.5,383.0 134.6,382.8 136.7,382.6C138.8,382.4 140.8,382.2 142.9,381.9C145.0,381.6 147.2,381.1 149.2,380.7C151.2,380.3 153.0,380.3 155.0,379.7C157.0,379.1 159.2,377.9 161.3,377.1C163.4,376.4 164.5,375.8 167.6,375.2C170.7,374.6 175.9,373.9 180.1,373.3C184.3,372.7 188.5,371.9 192.7,371.4C196.9,370.9 201.1,370.6 205.3,370.2C209.5,369.8 213.6,369.3 217.8,368.9C222.0,368.5 226.2,368.0 230.4,367.6C234.6,367.2 238.8,366.8 242.9,366.4C247.0,366.0 252.2,365.5 255.0,365.2C257.9,364.9 257.1,365.0 260.0,364.7C262.9,364.4 268.4,363.9 272.6,363.4C276.8,362.9 280.9,362.3 285.1,361.8C289.3,361.3 293.5,360.9 297.7,360.6C301.9,360.3 306.1,360.2 310.3,360.1C314.5,360.0 318.6,360.0 322.8,360.1C327.0,360.2 331.2,360.5 335.4,360.6C339.6,360.7 344.5,360.8 348.0,360.9C351.5,361.0 355.1,361.2 356.5,361.3L356.5,495.2 L59.9,495.2Z" fill="#EE0000"/>
<path d="M59.9,388.8C60.9,388.7 63.7,388.5 66.0,388.2C68.3,387.9 71.5,387.6 73.8,387.0C76.1,386.4 78.0,385.1 80.1,384.4C82.2,383.7 84.3,383.1 86.4,382.6C88.5,382.1 90.6,381.8 92.7,381.6C94.8,381.4 96.9,381.2 99.0,381.3C101.1,381.4 103.2,381.7 105.3,381.9C107.4,382.1 109.4,382.4 111.5,382.6C113.6,382.8 115.7,383.0 117.8,383.2C119.9,383.4 122.0,383.6 124.1,383.6C126.2,383.6 128.3,383.4 130.4,383.2C132.5,383.0 134.6,382.8 136.7,382.6C138.8,382.4 140.8,382.2 142.9,381.9C145.0,381.6 147.2,381.1 149.2,380.7C151.2,380.3 153.0,380.3 155.0,379.7C157.0,379.1 159.2,377.9 161.3,377.1C163.4,376.4 164.5,375.8 167.6,375.2C170.7,374.6 175.9,373.9 180.1,373.3C184.3,372.7 188.5,371.9 192.7,371.4C196.9,370.9 201.1,370.6 205.3,370.2C209.5,369.8 213.6,369.3 217.8,368.9C222.0,368.5 226.2,368.0 230.4,367.6C234.6,367.2 238.8,366.8 242.9,366.4C247.0,366.0 252.2,365.5 255.0,365.2C257.9,364.9 257.1,365.0 260.0,364.7C262.9,364.4 268.4,363.9 272.6,363.4C276.8,362.9 280.9,362.3 285.1,361.8C289.3,361.3 293.5,360.9 297.7,360.6C301.9,360.3 306.1,360.2 310.3,360.1C314.5,360.0 318.6,360.0 322.8,360.1C327.0,360.2 331.2,360.5 335.4,360.6C339.6,360.7 344.5,360.8 348.0,360.9C351.5,361.0 355.1,361.2 356.5,361.3" class="cn"/>
<path d="M59.9,412.1C61.2,412.0 64.2,411.6 67.6,411.7C71.0,411.8 76.5,412.2 80.1,412.7C83.6,413.2 86.4,414.0 88.9,414.6C91.4,415.2 93.4,415.9 95.2,416.5C97.0,417.1 98.6,417.6 99.6,418.4C100.5,419.2 100.9,420.4 100.9,421.5C100.9,422.6 100.3,424.2 99.6,425.3C98.9,426.4 97.9,427.3 96.5,428.4C95.1,429.4 93.1,430.7 91.4,431.6C89.7,432.6 88.3,433.3 86.4,434.1C84.5,434.9 82.2,435.9 80.1,436.6C78.0,437.3 75.9,438.1 73.8,438.5C71.7,438.9 69.9,439.1 67.6,439.3C65.3,439.5 61.2,439.6 59.9,439.7Z" fill="#FF8C00"/>
<path d="M59.9,412.1C61.2,412.0 64.2,411.6 67.6,411.7C71.0,411.8 76.5,412.2 80.1,412.7C83.6,413.2 86.4,414.0 88.9,414.6C91.4,415.2 93.4,415.9 95.2,416.5C97.0,417.1 98.6,417.6 99.6,418.4C100.5,419.2 100.9,420.4 100.9,421.5C100.9,422.6 100.3,424.2 99.6,425.3C98.9,426.4 97.9,427.3 96.5,428.4C95.1,429.4 93.1,430.7 91.4,431.6C89.7,432.6 88.3,433.3 86.4,434.1C84.5,434.9 82.2,435.9 80.1,436.6C78.0,437.3 75.9,438.1 73.8,438.5C71.7,438.9 69.9,439.1 67.6,439.3C65.3,439.5 61.2,439.6 59.9,439.7" class="cn"/>
<path d="M211.1,402.0C211.2,400.5 212.0,398.9 213.5,397.5C215.0,396.1 216.9,395.3 220.1,393.9C223.3,392.4 228.5,390.2 232.7,388.8C236.9,387.4 241.1,386.6 245.3,385.7C249.5,384.8 253.6,384.2 257.8,383.6C262.0,383.0 266.2,382.4 270.4,381.9C274.6,381.3 279.2,380.8 282.9,380.3C286.6,379.8 289.0,379.2 292.7,378.9C296.4,378.6 301.5,378.5 305.3,378.6C309.1,378.7 312.2,378.9 315.3,379.5C318.4,380.1 321.5,381.2 324.0,382.3C326.5,383.4 328.8,384.7 330.4,386.4C332.0,388.1 333.3,390.6 333.5,392.7C333.7,394.8 332.8,397.0 331.6,398.9C330.5,400.8 328.9,402.4 326.6,404.0C324.3,405.6 321.4,407.1 317.8,408.4C314.2,409.6 309.5,410.7 305.3,411.5C301.1,412.3 296.4,412.9 292.7,413.4C289.0,413.8 286.6,413.9 282.9,414.2C279.2,414.5 274.2,414.9 270.4,415.2C266.6,415.5 264.0,415.8 260.3,415.9C256.6,416.0 252.2,416.0 248.0,415.6C243.8,415.2 238.8,414.3 235.2,413.7C231.6,413.1 229.3,412.8 226.4,412.1C223.5,411.4 219.9,410.6 217.6,409.6C215.3,408.7 213.7,407.7 212.6,406.4C211.5,405.1 210.9,403.5 211.1,402.0Z" fill="#FFB4B4" class="cn" style="fill:#FFB4B4"/>
<path d="M62.90,389.1L63.25,386.6L63.75,386.6L64.10,389.1ZM65.20,388.8L65.55,385.5L66.05,385.5L66.40,388.8ZM67.50,388.4L67.85,384.5L68.35,384.5L68.70,388.4ZM69.80,388.1L70.15,385.2L70.65,385.2L71.00,388.1Z" fill="#EE0000"/>
<path class="co" d="M210.4,309.6 L209.8,312.3 L208.0,315.3 L205.0,318.3 L202.0,321.3 L199.0,324.9 L195.4,327.9 L191.8,330.9 L189.4,333.5 L185.8,335.7 L182.8,336.3 L180.4,334.7 L178.0,334.5 L175.6,336.3 L172.6,338.1 L170.2,339.9 L169.0,342.9 L166.0,345.3 L162.4,347.1 L160.9,348.3 L162.4,350.7 L165.4,353.6 L167.8,357.2 L169.0,360.8 L168.8,363.8 L166.0,365.4 L162.4,366.2 L158.8,367.1 M158.8,366.7 L157.9,366.1 L159.3,363.4 L157.9,361.0 L159.3,357.7 L156.7,355.7 L153.1,354.8 L151.9,353.3 L153.3,351.2 L154.3,349.4 L151.6,347.8 L147.7,347.3 L143.7,348.4 L140.1,350.8 L139.4,349.7 L141.0,347.0 L141.8,344.7 L139.4,342.8 L136.2,344.6 L133.2,346.6 L130.2,348.5 L127.2,349.0 L125.2,350.7 L126.4,353.1 L128.8,354.3 L130.5,356.2 L132.4,357.1 L134.8,355.9 L137.7,355.2 L141.0,355.7 L143.5,356.7 L142.2,357.9 L139.6,358.6 L136.8,360.1 L134.1,361.9 L132.2,363.7 L131.2,365.5 L132.9,367.2 L136.0,367.9 L136.8,371.5 L137.4,375.1 L139.6,376.5 L140.4,378.5 M140.6,378.4 L140.0,380.2 L137.0,382.0 L141.2,383.8 L141.8,386.2 L140.0,389.2 L138.2,391.6 L135.8,394.0 L133.4,396.4 L132.2,399.4 L129.8,402.4 L126.8,404.8 L123.8,407.2 L120.8,409.0 L117.8,409.8 L114.2,410.5 L111.8,412.0 L110.6,410.8 L108.8,412.5 L105.8,413.4 L102.7,414.3 L99.7,415.5 L97.3,416.7 L96.7,418.9 L96.1,416.1 L94.3,414.3 L91.9,414.0 L88.9,414.9 L85.9,416.7 L82.9,419.7 L80.9,422.7 L81.1,425.7 L83.5,428.7 L86.5,432.3 L89.5,435.3 L91.7,438.3 L93.1,441.9 L93.7,447.0 M86.0,431.8 L88.4,434.2 L91.4,437.2 L93.2,440.2 L94.4,443.8 L94.2,447.4 L92.6,451.0 L89.6,454.0 L87.2,455.8 L84.2,456.4 L81.8,458.8 L78.8,462.3 L77.6,459.9 L77.0,457.6 L75.2,455.8 L72.8,454.6 L70.4,451.6 L68.0,448.6 L65.0,446.8 L62.6,445.0 L59.8,444.7 M59.8,463.5 L61.4,466.5 L64.4,469.5 L68.0,472.5 L71.6,475.5 L72.8,479.1 L72.2,483.3 L74.0,486.9 L75.8,488.7 L72.8,489.3 L69.8,486.9 L66.2,484.5 L63.2,480.9 L61.0,476.7 L60.2,472.5 L59.8,468.9 M59.8,483.3 L62.6,485.7 L65.6,487.5 L68.6,489.9 L71.6,492.3 L74.0,494.7 M93.8,494.7 L92.6,491.1 L93.8,488.1 L96.8,487.5 L99.8,488.1 L101.6,485.1 L104.6,483.9 L107.6,482.7 L110.7,479.7 L113.7,476.7 L116.7,474.3 L119.7,472.5 L122.7,469.2 L125.7,471.9 L129.3,474.9 L130.5,476.7 L127.5,477.9 L125.7,480.3 L125.1,483.3 L126.9,486.3 L128.7,489.3 L129.9,491.1 L126.9,492.3 L125.1,494.7 M91.9,423.9 L93.1,421.5 L96.1,420.3 L99.7,420.3 L101.2,421.5 L100.1,424.5 L97.9,426.3 L94.9,427.3 L92.5,426.1Z M137.6,401.8 L140.0,401.2 L141.2,403.0 L140.2,406.6 L138.8,410.2 L137.3,412.5 L135.8,410.2 L135.2,407.2 L136.1,404.2Z M169.0,389.6 L170.0,388.8 M163.0,396.8 L164.8,395.4 M136.4,426.4 L138.2,426.0 L140.0,426.6 L141.5,427.3 L142.7,426.6 L142.8,427.9 L142.4,429.7 L143.2,431.5 L142.7,433.3 L141.5,435.1 L140.3,436.6 L139.4,438.4 L140.0,440.5 L140.8,442.3 L141.8,443.2 L143.0,442.6 L144.5,442.9 L146.0,443.6 L147.5,444.1 L148.4,445.3 L149.3,446.5 L148.4,447.2 L147.2,446.8 L146.3,445.3 L145.4,444.4 L144.5,444.1 L144.1,445.3 L143.3,445.9 L142.4,444.7 L141.5,443.5 L140.3,444.4 L139.0,444.2 L137.9,443.6 L137.3,442.9 L136.4,441.4 L135.2,440.5 L134.3,439.0 L133.7,437.2 L133.2,435.4 L134.3,434.8 L135.2,433.9 L135.6,432.1 L135.2,430.3 L135.5,428.5Z M137.0,444.6 L138.2,445.0 L139.7,446.2 L139.6,448.3 L138.6,449.3 L137.6,448.6 L136.7,447.1 L136.1,445.6Z M150.5,448.4 L152.3,448.1 L154.1,448.7 L154.7,450.5 L154.4,452.3 L155.0,453.8 L153.8,454.7 L153.5,456.2 L152.3,456.8 L151.1,456.2 L151.7,454.7 L150.8,453.5 L151.7,451.7 L150.8,450.2Z M140.9,451.1 L143.0,451.1 L144.5,452.0 L146.0,452.3 L146.3,453.8 L147.5,455.3 L148.4,454.1 L149.0,455.6 L149.3,457.1 L150.5,457.7 L150.8,458.9 L149.3,459.2 L147.8,458.9 L146.3,459.8 L145.4,461.0 L144.2,460.4 L143.3,459.2 L143.9,457.7 L144.8,456.8 L143.9,455.9 L142.4,456.2 L140.9,455.6 L141.2,454.1 L141.5,452.6Z M141.2,469.1 L141.6,467.3 L142.4,465.8 L143.9,464.9 L145.4,463.7 L146.6,462.8 L148.1,463.4 L149.0,464.3 L150.5,463.1 L152.0,462.2 L153.5,461.0 L154.4,459.2 L155.9,459.8 L157.1,461.3 L157.7,463.1 L158.2,465.5 L158.3,467.6 L157.4,469.7 L156.8,470.9 L155.9,469.1 L155.0,468.8 L154.4,470.3 L155.3,472.1 L154.7,473.9 L153.2,473.0 L151.7,472.7 L149.9,471.8 L148.7,470.3 L148.4,468.5 L149.0,467.0 L147.8,466.4 L146.3,466.7 L145.1,467.6 L143.9,466.7 L142.7,467.3 L142.1,468.8Z M123.6,463.0 L126.0,460.9 L129.0,457.9 L131.6,454.9 L132.6,453.4 L132.2,455.5 L129.6,458.5 L126.6,461.5 L124.2,463.5Z M133.2,494.2 L134.4,491.8 L137.4,490.4 L142.2,490.6 L147.0,490.4 L150.6,489.4 L153.0,488.2 L153.6,489.7 L151.8,491.8 L148.2,493.0 L143.4,493.0 L139.2,492.8 L136.2,493.6 L133.8,494.8 M162.0,494.4 L161.2,491.2 L162.0,488.8 L163.2,486.8 L163.8,488.8 L165.6,489.4 L166.0,491.2 L164.4,493.0 L162.9,494.4 M215.2,309.6 L215.8,314.1 L216.4,317.7 L215.2,321.3 L215.0,323.7 L216.4,324.3 L218.2,322.5 L220.0,321.9 L221.3,323.7 L220.6,321.3 L218.8,318.9 L218.2,315.9 L220.0,313.5 L222.5,311.7 L224.6,312.3 L223.7,309.6 M214.0,326.7 L217.6,329.1 L221.3,330.9 L224.9,332.1 L227.9,331.5 L230.9,330.9 L228.5,332.7 L229.7,334.2 L226.7,334.7 L223.7,336.3 L220.6,338.1 L217.6,336.9 L214.6,336.3 L212.2,337.5 L210.4,338.1 L211.6,339.9 L209.8,341.1 L207.4,338.7 L208.0,336.3 L210.4,334.2 L212.2,331.5 L213.4,329.1Z M234.7,329.5 L236.9,328.0 L240.7,326.3 M242.9,324.9 L245.9,323.7 M251.9,321.1 L253.2,320.2 M209.8,342.3 L208.6,343.9 L208.3,346.5 L207.4,349.9 L205.0,352.9 L202.0,355.3 L199.0,356.5 L197.2,355.9 L196.6,358.2 L193.6,359.4 L190.6,360.9 L187.6,361.6 L184.0,362.4 L181.0,363.6 L178.0,365.4 L175.6,367.6 L174.4,369.0 L177.4,368.4 L180.4,367.2 L183.4,366.4 L186.4,365.7 L188.8,365.4 L190.6,366.6 L191.2,369.0 L193.0,370.2 L194.8,368.4 L196.0,366.0 L198.4,365.4 L200.8,366.0 L203.2,364.8 L205.0,365.4 L206.8,363.6 L208.6,364.8 L210.4,363.6 L211.0,361.2 L211.6,357.6 L212.2,354.1 L213.4,351.1 L215.2,348.1 L214.6,345.7 L212.8,342.9Z M180.4,369.6 L182.8,368.1 L185.8,367.6 L188.2,368.4 L187.6,370.2 L185.2,370.8 L182.8,372.0 L180.4,371.7 L179.8,370.2Z M170.2,372.4 L172.0,370.2 L174.4,369.6 L176.8,370.2 L178.0,372.6 L177.4,375.6 L176.6,378.4 L174.4,379.8 L172.2,378.8 L171.8,376.2 L172.6,374.4 L170.8,373.8Z"/>
</g>
<rect x="59.9" y="309.3" width="296.60" height="185.90" class="k"/>
<path class="k" d="M78.44,495.2v5.7 M134.05,495.2v5.7 M189.66,495.2v5.7 M245.28,495.2v5.7 M300.89,495.2v5.7 M356.50,495.2v5.7 M59.9,495.20h-5.7 M59.9,458.02h-5.7 M59.9,420.84h-5.7 M59.9,383.66h-5.7 M59.9,346.48h-5.7 M59.9,309.30h-5.7"/>
<text class="c c2" x="78.4" y="512.0" font-size="7.95">105°E</text>
<text class="c c2" x="134.1" y="512.0" font-size="7.95">120°E</text>
<text class="c c2" x="189.7" y="512.0" font-size="7.95">135°E</text>
<text class="c c2" x="245.3" y="512.0" font-size="7.95">150°E</text>
<text class="c c2" x="300.9" y="512.0" font-size="7.95">165°E</text>
<text class="c c2" x="356.5" y="512.0" font-size="7.95">180°</text>
<text class="y" x="48.8" y="498.4" font-size="7.95">0°</text>
<text class="y" x="48.8" y="461.2" font-size="7.95">10°N</text>
<text class="y" x="48.8" y="424.0" font-size="7.95">20°N</text>
<text class="y" x="48.8" y="386.8" font-size="7.95">30°N</text>
<text class="y" x="48.8" y="349.6" font-size="7.95">40°N</text>
<text class="y" x="48.8" y="312.5" font-size="7.95">50°N</text>
<text class="t" x="207.7" y="296.6" font-size="11.67">1952_500hpa_hgt</text>
<text class="c" x="137" y="330.5" font-size="8.45" transform="rotate(6 137 327.5)">5720</text>
<text class="c" x="146.5" y="366.0" font-size="8.45" transform="rotate(0 146.5 363)">5800</text>
<text class="c" x="230" y="335.3" font-size="8.45" transform="rotate(-3 230 332.25)">5720</text>
<text class="c" x="268.75" y="356.0" font-size="8.45" transform="rotate(-5 268.75 353)">5800</text>
<text class="c" x="325" y="385.5" font-size="8.45" transform="rotate(25 325 382.5)">5880</text>
<text class="c" x="248" y="419.0" font-size="8.45" transform="rotate(5 248 416)">5880</text>
<rect x="77.25" y="520.25" width="32.70" height="16.25" fill="#8420F0" stroke="#444" stroke-width=".5"/>
<rect x="109.95" y="520.25" width="32.70" height="16.25" fill="#2D4BE4" stroke="#444" stroke-width=".5"/>
<rect x="142.65" y="520.25" width="32.70" height="16.25" fill="#12A0FF" stroke="#444" stroke-width=".5"/>
<rect x="175.35" y="520.25" width="32.70" height="16.25" fill="#96D2F0" stroke="#444" stroke-width=".5"/>
<rect x="208.05" y="520.25" width="32.70" height="16.25" fill="#FFE848" stroke="#444" stroke-width=".5"/>
<rect x="240.75" y="520.25" width="32.70" height="16.25" fill="#FF8C00" stroke="#444" stroke-width=".5"/>
<rect x="273.45" y="520.25" width="32.70" height="16.25" fill="#EE0000" stroke="#444" stroke-width=".5"/>
<rect x="306.15" y="520.25" width="32.70" height="16.25" fill="#FFB4B4" stroke="#444" stroke-width=".5"/>
<text class="c" x="110.0" y="548.3" font-size="8.45">5640</text>
<text class="c" x="142.7" y="548.3" font-size="8.45">5680</text>
<text class="c" x="175.4" y="548.3" font-size="8.45">5720</text>
<text class="c" x="208.1" y="548.3" font-size="8.45">5760</text>
<text class="c" x="240.8" y="548.3" font-size="8.45">5800</text>
<text class="c" x="273.5" y="548.3" font-size="8.45">5840</text>
<text class="c" x="306.2" y="548.3" font-size="8.45">5880</text>
</g>
<g id="panel4">
<clipPath id="cp3"><rect x="455" y="302.5" width="308.90" height="193.75"/></clipPath>
<g clip-path="url(#cp3)">
<rect x="455" y="302.5" width="308.90" height="193.75" fill="#96D2F0"/>
<path d="M463.8,302.5C465.7,303.0 471.1,304.4 475.1,305.3C479.1,306.2 483.5,307.2 487.7,308.2C491.9,309.2 496.1,310.1 500.3,311.3C504.5,312.5 508.6,314.0 512.8,315.1C517.0,316.2 521.2,317.3 525.4,318.2C529.6,319.1 533.9,319.8 538.0,320.4C542.1,321.0 546.3,321.3 550.0,321.6C553.7,321.9 556.2,321.8 560.0,322.0C563.8,322.2 568.4,322.6 572.6,322.9C576.8,323.2 580.9,323.5 585.1,323.9C589.3,324.3 593.5,324.8 597.7,325.2C601.9,325.6 605.8,325.9 610.3,326.4C614.8,326.9 620.0,327.5 625.0,328.0C630.0,328.5 635.4,329.1 640.0,329.5C644.6,329.9 648.4,330.3 652.6,330.6C656.8,330.9 660.9,331.3 665.1,331.4C669.3,331.5 673.5,331.4 677.7,331.4C681.9,331.4 686.1,331.4 690.3,331.3C694.4,331.2 698.5,330.9 702.6,330.6C706.7,330.3 710.9,329.8 715.1,329.3C719.3,328.8 723.5,328.1 727.7,327.5C731.9,326.9 736.1,326.3 740.3,325.6C744.5,324.9 748.9,324.1 752.8,323.3C756.7,322.6 762.0,321.5 763.9,321.1L763.9,302.5Z" fill="#12A0FF"/>
<path d="M463.8,302.5C465.7,303.0 471.1,304.4 475.1,305.3C479.1,306.2 483.5,307.2 487.7,308.2C491.9,309.2 496.1,310.1 500.3,311.3C504.5,312.5 508.6,314.0 512.8,315.1C517.0,316.2 521.2,317.3 525.4,318.2C529.6,319.1 533.9,319.8 538.0,320.4C542.1,321.0 546.3,321.3 550.0,321.6C553.7,321.9 556.2,321.8 560.0,322.0C563.8,322.2 568.4,322.6 572.6,322.9C576.8,323.2 580.9,323.5 585.1,323.9C589.3,324.3 593.5,324.8 597.7,325.2C601.9,325.6 605.8,325.9 610.3,326.4C614.8,326.9 620.0,327.5 625.0,328.0C630.0,328.5 635.4,329.1 640.0,329.5C644.6,329.9 648.4,330.3 652.6,330.6C656.8,330.9 660.9,331.3 665.1,331.4C669.3,331.5 673.5,331.4 677.7,331.4C681.9,331.4 686.1,331.4 690.3,331.3C694.4,331.2 698.5,330.9 702.6,330.6C706.7,330.3 710.9,329.8 715.1,329.3C719.3,328.8 723.5,328.1 727.7,327.5C731.9,326.9 736.1,326.3 740.3,325.6C744.5,324.9 748.9,324.1 752.8,323.3C756.7,322.6 762.0,321.5 763.9,321.1" class="cn"/>
<path d="M597.7,302.5C598.8,302.8 601.9,303.7 604.0,304.2C606.1,304.7 607.2,304.8 610.3,305.7C613.4,306.6 618.6,308.4 622.8,309.5C627.0,310.6 632.5,311.9 635.4,312.6C638.3,313.3 637.1,313.1 640.0,313.8C642.9,314.5 648.4,316.1 652.6,317.0C656.8,317.9 660.9,318.9 665.1,319.5C669.3,320.1 673.5,320.4 677.7,320.8C681.9,321.1 686.1,321.4 690.3,321.4C694.5,321.4 698.6,321.2 702.8,320.9C707.0,320.6 711.2,320.3 715.4,319.7C719.6,319.1 723.9,318.3 728.0,317.5C732.1,316.7 736.2,315.9 740.3,314.7C744.4,313.5 748.9,311.5 752.8,310.1C756.7,308.8 762.0,307.2 763.9,306.6L763.9,302.5Z" fill="#2D4BE4"/>
<path d="M597.7,302.5C598.8,302.8 601.9,303.7 604.0,304.2C606.1,304.7 607.2,304.8 610.3,305.7C613.4,306.6 618.6,308.4 622.8,309.5C627.0,310.6 632.5,311.9 635.4,312.6C638.3,313.3 637.1,313.1 640.0,313.8C642.9,314.5 648.4,316.1 652.6,317.0C656.8,317.9 660.9,318.9 665.1,319.5C669.3,320.1 673.5,320.4 677.7,320.8C681.9,321.1 686.1,321.4 690.3,321.4C694.5,321.4 698.6,321.2 702.8,320.9C707.0,320.6 711.2,320.3 715.4,319.7C719.6,319.1 723.9,318.3 728.0,317.5C732.1,316.7 736.2,315.9 740.3,314.7C744.4,313.5 748.9,311.5 752.8,310.1C756.7,308.8 762.0,307.2 763.9,306.6" class="cn"/>
<path d="M655.0,302.5C657.1,303.1 663.3,305.1 667.5,306.0C671.7,306.9 675.8,307.5 680.0,308.0C684.2,308.5 689.0,308.9 692.8,309.0C696.6,309.1 698.9,309.0 702.6,308.6C706.3,308.2 711.8,307.5 715.1,306.9C718.5,306.3 720.6,305.5 722.7,304.8C724.8,304.1 726.9,302.9 727.7,302.5Z" fill="#8420F0"/>
<path d="M655.0,302.5C657.1,303.1 663.3,305.1 667.5,306.0C671.7,306.9 675.8,307.5 680.0,308.0C684.2,308.5 689.0,308.9 692.8,309.0C696.6,309.1 698.9,309.0 702.6,308.6C706.3,308.2 711.8,307.5 715.1,306.9C718.5,306.3 720.6,305.5 722.7,304.8C724.8,304.1 726.9,302.9 727.7,302.5" class="cn"/>
<path d="M455.0,317.9C456.3,318.1 459.2,318.4 462.6,319.1C466.0,319.8 470.9,321.0 475.1,322.0C479.3,323.0 483.5,324.1 487.7,325.2C491.9,326.2 496.1,327.3 500.3,328.3C504.5,329.3 508.6,330.5 512.8,331.4C517.0,332.3 521.2,333.2 525.4,333.9C529.6,334.6 533.9,335.2 538.0,335.8C542.1,336.4 546.3,337.1 550.0,337.5C553.7,337.9 556.2,338.1 560.0,338.4C563.8,338.7 568.4,338.9 572.6,339.2C576.8,339.5 580.9,340.0 585.1,340.3C589.3,340.6 593.5,340.7 597.7,340.9C601.9,341.1 606.1,341.2 610.3,341.3C614.5,341.4 618.6,341.5 622.8,341.5C627.0,341.5 631.2,341.5 635.4,341.5C639.6,341.5 643.9,341.6 648.0,341.6C652.1,341.6 655.5,341.5 660.0,341.4C664.5,341.3 670.0,341.2 675.0,341.0C680.0,340.8 685.4,340.5 690.0,340.2C694.6,339.9 698.4,339.6 702.6,339.2C706.8,338.8 710.9,338.4 715.1,338.0C719.3,337.6 723.5,337.1 727.7,336.7C731.9,336.3 736.1,336.0 740.3,335.5C744.5,335.0 748.9,334.4 752.8,333.9C756.7,333.4 762.0,332.6 763.9,332.4L763.9,496.2 L455.0,496.2Z" fill="#FFE848"/>
<path d="M455.0,317.9C456.3,318.1 459.2,318.4 462.6,319.1C466.0,319.8 470.9,321.0 475.1,322.0C479.3,323.0 483.5,324.1 487.7,325.2C491.9,326.2 496.1,327.3 500.3,328.3C504.5,329.3 508.6,330.5 512.8,331.4C517.0,332.3 521.2,333.2 525.4,333.9C529.6,334.6 533.9,335.2 538.0,335.8C542.1,336.4 546.3,337.1 550.0,337.5C553.7,337.9 556.2,338.1 560.0,338.4C563.8,338.7 568.4,338.9 572.6,339.2C576.8,339.5 580.9,340.0 585.1,340.3C589.3,340.6 593.5,340.7 597.7,340.9C601.9,341.1 606.1,341.2 610.3,341.3C614.5,341.4 618.6,341.5 622.8,341.5C627.0,341.5 631.2,341.5 635.4,341.5C639.6,341.5 643.9,341.6 648.0,341.6C652.1,341.6 655.5,341.5 660.0,341.4C664.5,341.3 670.0,341.2 675.0,341.0C680.0,340.8 685.4,340.5 690.0,340.2C694.6,339.9 698.4,339.6 702.6,339.2C706.8,338.8 710.9,338.4 715.1,338.0C719.3,337.6 723.5,337.1 727.7,336.7C731.9,336.3 736.1,336.0 740.3,335.5C744.5,335.0 748.9,334.4 752.8,333.9C756.7,333.4 762.0,332.6 763.9,332.4" class="cn"/>
<path d="M455.0,333.7C456.3,334.1 459.2,334.9 462.6,335.8C466.0,336.7 470.9,338.1 475.1,339.2C479.3,340.3 483.5,341.5 487.7,342.5C491.9,343.5 496.1,344.4 500.3,345.3C504.5,346.2 509.0,347.1 512.8,347.8C516.6,348.5 519.2,349.1 522.9,349.6C526.6,350.1 530.5,350.6 535.0,351.0C539.5,351.4 545.8,352.1 550.0,352.3C554.2,352.5 556.2,352.3 560.0,352.4C563.8,352.5 568.4,352.7 572.6,352.9C576.8,353.1 580.9,353.2 585.1,353.4C589.3,353.5 593.5,353.7 597.7,353.8C601.9,353.9 606.1,354.1 610.3,354.1C614.5,354.2 618.6,354.2 622.8,354.1C627.0,354.1 631.2,353.9 635.4,353.8C639.6,353.7 643.9,353.6 648.0,353.4C652.1,353.2 655.5,353.1 660.0,352.8C664.5,352.5 670.0,352.2 675.0,351.8C680.0,351.4 685.4,350.7 690.0,350.3C694.6,349.9 698.4,349.7 702.6,349.3C706.8,348.9 710.9,348.4 715.1,348.0C719.3,347.6 723.5,347.2 727.7,346.8C731.9,346.4 736.1,345.9 740.3,345.5C744.5,345.1 748.9,344.6 752.8,344.2C756.7,343.8 762.0,343.5 763.9,343.4L763.9,496.2 L455.0,496.2Z" fill="#FF8C00"/>
<path d="M455.0,333.7C456.3,334.1 459.2,334.9 462.6,335.8C466.0,336.7 470.9,338.1 475.1,339.2C479.3,340.3 483.5,341.5 487.7,342.5C491.9,343.5 496.1,344.4 500.3,345.3C504.5,346.2 509.0,347.1 512.8,347.8C516.6,348.5 519.2,349.1 522.9,349.6C526.6,350.1 530.5,350.6 535.0,351.0C539.5,351.4 545.8,352.1 550.0,352.3C554.2,352.5 556.2,352.3 560.0,352.4C563.8,352.5 568.4,352.7 572.6,352.9C576.8,353.1 580.9,353.2 585.1,353.4C589.3,353.5 593.5,353.7 597.7,353.8C601.9,353.9 606.1,354.1 610.3,354.1C614.5,354.2 618.6,354.2 622.8,354.1C627.0,354.1 631.2,353.9 635.4,353.8C639.6,353.7 643.9,353.6 648.0,353.4C652.1,353.2 655.5,353.1 660.0,352.8C664.5,352.5 670.0,352.2 675.0,351.8C680.0,351.4 685.4,350.7 690.0,350.3C694.6,349.9 698.4,349.7 702.6,349.3C706.8,348.9 710.9,348.4 715.1,348.0C719.3,347.6 723.5,347.2 727.7,346.8C731.9,346.4 736.1,345.9 740.3,345.5C744.5,345.1 748.9,344.6 752.8,344.2C756.7,343.8 762.0,343.5 763.9,343.4" class="cn"/>
<path d="M455.0,377.7C456.3,377.5 460.5,377.0 463.0,376.5C465.5,376.0 468.0,375.0 470.0,374.5C472.0,374.0 472.2,373.6 475.1,373.3C478.1,373.0 483.5,372.7 487.7,372.7C491.9,372.7 496.1,373.0 500.3,373.3C504.5,373.6 509.7,374.4 512.8,374.6C515.9,374.8 517.0,374.8 519.1,374.6C521.2,374.4 523.3,373.8 525.4,373.3C527.5,372.8 529.6,372.0 531.7,371.4C533.8,370.8 535.9,370.3 538.0,369.9C540.1,369.4 542.2,369.0 544.2,368.7C546.2,368.4 546.9,368.2 550.0,367.9C553.1,367.6 558.4,367.2 562.6,367.0C566.8,366.8 570.9,366.5 575.1,366.4C579.3,366.3 583.5,366.3 587.7,366.4C591.9,366.5 596.1,366.8 600.3,367.0C604.5,367.2 608.6,367.3 612.8,367.4C617.0,367.5 621.2,367.5 625.4,367.4C629.6,367.3 633.9,367.0 638.0,366.7C642.1,366.4 645.5,366.3 650.0,365.8C654.5,365.3 660.4,364.3 665.0,363.8C669.6,363.3 673.5,363.0 677.7,362.6C681.9,362.2 685.9,361.7 690.0,361.4C694.1,361.1 698.4,360.9 702.6,360.6C706.8,360.3 710.9,359.9 715.1,359.7C719.3,359.4 723.5,359.3 727.7,359.1C731.9,358.9 736.1,358.6 740.3,358.4C744.5,358.2 748.9,358.0 752.8,357.8C756.7,357.6 762.0,357.5 763.9,357.4L763.9,496.2 L455.0,496.2Z" fill="#EE0000"/>
<path d="M455.0,377.7C456.3,377.5 460.5,377.0 463.0,376.5C465.5,376.0 468.0,375.0 470.0,374.5C472.0,374.0 472.2,373.6 475.1,373.3C478.1,373.0 483.5,372.7 487.7,372.7C491.9,372.7 496.1,373.0 500.3,373.3C504.5,373.6 509.7,374.4 512.8,374.6C515.9,374.8 517.0,374.8 519.1,374.6C521.2,374.4 523.3,373.8 525.4,373.3C527.5,372.8 529.6,372.0 531.7,371.4C533.8,370.8 535.9,370.3 538.0,369.9C540.1,369.4 542.2,369.0 544.2,368.7C546.2,368.4 546.9,368.2 550.0,367.9C553.1,367.6 558.4,367.2 562.6,367.0C566.8,366.8 570.9,366.5 575.1,366.4C579.3,366.3 583.5,366.3 587.7,366.4C591.9,366.5 596.1,366.8 600.3,367.0C604.5,367.2 608.6,367.3 612.8,367.4C617.0,367.5 621.2,367.5 625.4,367.4C629.6,367.3 633.9,367.0 638.0,366.7C642.1,366.4 645.5,366.3 650.0,365.8C654.5,365.3 660.4,364.3 665.0,363.8C669.6,363.3 673.5,363.0 677.7,362.6C681.9,362.2 685.9,361.7 690.0,361.4C694.1,361.1 698.4,360.9 702.6,360.6C706.8,360.3 710.9,359.9 715.1,359.7C719.3,359.4 723.5,359.3 727.7,359.1C731.9,358.9 736.1,358.6 740.3,358.4C744.5,358.2 748.9,358.0 752.8,357.8C756.7,357.6 762.0,357.5 763.9,357.4" class="cn"/>
<path d="M640.8,396.4C640.9,395.2 641.1,393.8 642.0,392.7C642.9,391.6 644.4,390.4 646.4,389.5C648.4,388.6 651.2,387.9 653.9,387.4C656.6,386.9 659.8,386.7 662.7,386.6C665.6,386.5 668.6,386.6 671.5,386.8C674.4,387.0 677.8,387.3 680.3,387.9C682.8,388.5 685.0,389.2 686.6,390.2C688.2,391.2 689.7,392.6 690.0,393.9C690.3,395.1 689.6,396.5 688.5,397.7C687.4,398.9 685.5,399.9 683.5,400.8C681.5,401.7 679.2,402.7 676.6,403.3C674.0,403.9 670.9,404.3 667.8,404.6C664.6,404.9 660.9,405.0 657.7,405.0C654.6,405.0 651.3,405.0 648.9,404.6C646.5,404.2 644.5,403.5 643.3,402.7C642.0,401.9 641.8,400.7 641.4,399.6C641.0,398.6 640.6,397.5 640.8,396.4Z" fill="#FFB4B4" class="cn" style="fill:#FFB4B4"/>
<path d="M456.90,378.0L457.25,375.7L457.75,375.7L458.10,378.0ZM459.20,377.4L459.55,374.6L460.05,374.6L460.40,377.4ZM461.50,376.9L461.85,373.4L462.35,373.4L462.70,376.9ZM463.80,376.4L464.15,373.8L464.65,373.8L465.00,376.4ZM466.10,375.8L466.45,372.6L466.95,372.6L467.30,375.8ZM468.40,375.2L468.75,372.9L469.25,372.9L469.60,375.2ZM470.70,374.7L471.05,371.8L471.55,371.8L471.90,374.7Z" fill="#EE0000"/>
<path class="co" d="M611.8,302.8 L611.2,305.7 L609.3,308.8 L606.2,311.9 L603.0,315.0 L599.9,318.8 L596.1,321.9 L592.4,325.0 L589.9,327.8 L586.1,330.0 L583.0,330.6 L580.5,329.0 L578.0,328.8 L575.5,330.6 L572.4,332.5 L569.9,334.4 L568.6,337.5 L565.5,340.0 L561.7,341.9 L560.2,343.1 L561.7,345.6 L564.9,348.7 L567.4,352.5 L568.6,356.2 L568.4,359.3 L565.5,361.0 L561.7,361.8 L558.0,362.7 M558.0,362.4 L557.0,361.7 L558.5,358.9 L557.0,356.4 L558.5,353.0 L555.8,350.9 L552.0,349.9 L550.8,348.4 L552.3,346.1 L553.3,344.3 L550.5,342.6 L546.4,342.1 L542.3,343.3 L538.5,345.8 L537.8,344.6 L539.5,341.8 L540.3,339.4 L537.8,337.4 L534.5,339.3 L531.4,341.4 L528.3,343.4 L525.1,343.9 L523.0,345.6 L524.2,348.1 L526.8,349.4 L528.5,351.4 L530.5,352.4 L533.0,351.1 L536.0,350.4 L539.5,350.9 L542.0,351.9 L540.8,353.1 L538.0,353.9 L535.1,355.5 L532.3,357.4 L530.3,359.2 L529.3,361.1 L531.0,362.9 L534.3,363.6 L535.1,367.3 L535.8,371.1 L538.0,372.6 L538.9,374.6 M539.0,374.5 L538.4,376.4 L535.3,378.3 L539.7,380.2 L540.3,382.6 L538.4,385.8 L536.5,388.3 L534.0,390.8 L531.5,393.3 L530.3,396.4 L527.8,399.5 L524.6,402.0 L521.5,404.5 L518.4,406.4 L515.3,407.2 L511.5,408.0 L509.0,409.5 L507.8,408.2 L505.9,410.1 L502.8,411.0 L499.6,412.0 L496.5,413.2 L494.0,414.5 L493.4,416.7 L492.7,413.9 L490.9,412.0 L488.4,411.6 L485.2,412.6 L482.1,414.5 L479.0,417.6 L476.9,420.7 L477.1,423.8 L479.6,427.0 L482.7,430.7 L485.9,433.8 L488.1,436.9 L489.6,440.7 L490.2,446.1 M482.2,430.2 L484.7,432.7 L487.8,435.8 L489.7,438.9 L491.0,442.7 L490.7,446.4 L489.1,450.1 L486.0,453.3 L483.5,455.1 L480.3,455.8 L477.8,458.3 L474.7,462.0 L473.5,459.5 L472.8,457.0 L470.9,455.1 L468.4,453.9 L465.9,450.8 L463.4,447.7 L460.3,445.8 L457.8,443.9 L454.9,443.7 M454.9,463.3 L456.6,466.4 L459.7,469.5 L463.4,472.6 L467.2,475.7 L468.4,479.5 L467.8,483.9 L469.7,487.6 L471.6,489.5 L468.4,490.1 L465.3,487.6 L461.6,485.1 L458.4,481.4 L456.2,477.0 L455.3,472.6 L454.9,468.9 M454.9,483.9 L457.8,486.3 L460.9,488.2 L464.1,490.7 L467.2,493.2 L469.7,495.7 M490.3,495.7 L489.1,492.0 L490.3,488.8 L493.5,488.2 L496.6,488.8 L498.5,485.7 L501.6,484.5 L504.7,483.2 L507.9,480.1 L511.0,477.0 L514.1,474.5 L517.2,472.6 L520.4,469.1 L523.5,472.0 L527.3,475.1 L528.5,477.0 L525.4,478.2 L523.5,480.7 L522.9,483.9 L524.7,487.0 L526.6,490.1 L527.9,492.0 L524.7,493.2 L522.9,495.7 M488.4,422.0 L489.6,419.5 L492.7,418.2 L496.5,418.2 L498.0,419.5 L496.9,422.6 L494.6,424.5 L491.5,425.5 L489.0,424.2Z M535.9,398.9 L538.4,398.3 L539.7,400.1 L538.7,403.9 L537.2,407.6 L535.7,410.1 L534.0,407.6 L533.4,404.5 L534.4,401.4Z M568.6,386.2 L569.6,385.3 M562.4,393.7 L564.2,392.2 M534.7,424.6 L536.6,424.1 L538.4,424.7 L540.0,425.5 L541.3,424.7 L541.4,426.1 L541.0,428.0 L541.8,429.9 L541.3,431.7 L540.0,433.6 L538.8,435.2 L537.8,437.0 L538.4,439.2 L539.3,441.1 L540.3,442.0 L541.6,441.4 L543.1,441.7 L544.7,442.5 L546.3,443.0 L547.2,444.2 L548.1,445.5 L547.2,446.2 L546.0,445.8 L545.0,444.2 L544.1,443.3 L543.1,443.0 L542.6,444.2 L541.9,444.8 L541.0,443.6 L540.0,442.3 L538.8,443.3 L537.4,443.1 L536.3,442.5 L535.6,441.7 L534.7,440.2 L533.4,439.2 L532.5,437.7 L531.9,435.8 L531.4,433.9 L532.5,433.3 L533.4,432.4 L533.9,430.5 L533.4,428.6 L533.8,426.7Z M535.3,443.5 L536.6,443.9 L538.1,445.1 L538.0,447.3 L537.0,448.5 L535.9,447.6 L535.0,446.1 L534.4,444.5Z M549.4,447.5 L551.3,447.2 L553.2,447.8 L553.8,449.7 L553.5,451.6 L554.1,453.1 L552.8,454.1 L552.5,455.6 L551.3,456.3 L550.0,455.6 L550.6,454.1 L549.7,452.8 L550.6,451.0 L549.7,449.4Z M539.4,450.3 L541.6,450.3 L543.1,451.3 L544.7,451.6 L545.0,453.1 L546.3,454.7 L547.2,453.4 L547.8,455.0 L548.1,456.6 L549.4,457.2 L549.7,458.4 L548.1,458.8 L546.6,458.4 L545.0,459.4 L544.1,460.6 L542.8,460.0 L541.9,458.8 L542.5,457.2 L543.5,456.3 L542.5,455.3 L541.0,455.6 L539.4,455.0 L539.7,453.4 L540.0,451.9Z M539.7,469.1 L540.1,467.2 L541.0,465.6 L542.5,464.7 L544.1,463.4 L545.3,462.5 L546.9,463.1 L547.8,464.1 L549.4,462.8 L551.0,461.9 L552.5,460.6 L553.5,458.8 L555.0,459.4 L556.3,460.9 L556.9,462.8 L557.4,465.3 L557.5,467.5 L556.6,469.7 L556.0,470.9 L555.0,469.1 L554.1,468.7 L553.5,470.3 L554.4,472.2 L553.8,474.0 L552.2,473.1 L550.6,472.8 L548.8,471.9 L547.5,470.3 L547.2,468.4 L547.8,466.9 L546.6,466.2 L545.0,466.6 L543.8,467.5 L542.5,466.6 L541.3,467.2 L540.6,468.7Z M521.3,462.7 L523.8,460.5 L527.0,457.3 L529.7,454.2 L530.7,452.7 L530.3,454.8 L527.6,458.0 L524.4,461.1 L521.9,463.2Z M531.3,495.2 L532.6,492.7 L535.7,491.2 L540.7,491.5 L545.7,491.2 L549.5,490.2 L552.0,489.0 L552.6,490.5 L550.7,492.7 L547.0,494.0 L542.0,494.0 L537.6,493.7 L534.5,494.6 L532.0,495.8 M561.4,495.5 L560.5,492.1 L561.4,489.6 L562.6,487.5 L563.2,489.6 L565.1,490.2 L565.5,492.1 L563.9,494.0 L562.2,495.5 M616.8,302.8 L617.4,307.5 L618.0,311.3 L616.8,315.0 L616.5,317.5 L618.0,318.1 L619.9,316.3 L621.8,315.6 L623.0,317.5 L622.4,315.0 L620.5,312.5 L619.9,309.4 L621.8,306.9 L624.3,305.0 L626.5,305.7 L625.5,302.8 M615.5,320.6 L619.3,323.1 L623.0,325.0 L626.8,326.3 L629.9,325.6 L633.1,325.0 L630.5,326.9 L631.8,328.5 L628.7,329.0 L625.5,330.6 L622.4,332.5 L619.3,331.2 L616.2,330.6 L613.7,331.9 L611.8,332.5 L613.0,334.4 L611.2,335.6 L608.7,333.1 L609.3,330.6 L611.8,328.5 L613.7,325.6 L614.9,323.1Z M637.1,323.5 L639.3,322.0 L643.3,320.3 M645.6,318.8 L648.7,317.5 M654.9,314.8 L656.3,313.9 M611.2,336.9 L609.9,338.5 L609.5,341.3 L608.7,344.8 L606.2,347.9 L603.0,350.4 L599.9,351.6 L598.0,351.0 L597.4,353.5 L594.3,354.8 L591.1,356.3 L588.0,357.0 L584.3,357.9 L581.1,359.1 L578.0,361.0 L575.5,363.3 L574.2,364.7 L577.4,364.1 L580.5,362.9 L583.6,362.0 L586.8,361.3 L589.3,361.0 L591.1,362.3 L591.8,364.7 L593.6,366.0 L595.5,364.1 L596.8,361.6 L599.3,361.0 L601.8,361.6 L604.3,360.4 L606.2,361.0 L608.0,359.1 L609.9,360.4 L611.8,359.1 L612.4,356.6 L613.0,352.9 L613.7,349.1 L614.9,346.0 L616.8,342.9 L616.2,340.4 L614.3,337.5Z M580.5,365.4 L583.0,363.8 L586.1,363.3 L588.6,364.1 L588.0,366.0 L585.5,366.6 L583.0,367.9 L580.5,367.5 L579.9,366.0Z M569.9,368.2 L571.7,366.0 L574.2,365.4 L576.7,366.0 L578.0,368.5 L577.4,371.6 L576.5,374.5 L574.2,376.0 L572.0,375.0 L571.5,372.2 L572.4,370.4 L570.5,369.7Z"/>
</g>
<rect x="455" y="302.5" width="308.90" height="193.75" class="k"/>
<path class="k" d="M474.31,496.25v6.0 M532.23,496.25v6.0 M590.14,496.25v6.0 M648.06,496.25v6.0 M705.98,496.25v6.0 M763.90,496.25v6.0 M455,496.25h-6.0 M455,457.50h-6.0 M455,418.75h-6.0 M455,380.00h-6.0 M455,341.25h-6.0 M455,302.50h-6.0"/>
<text class="c c2" x="474.3" y="513.8" font-size="8.3">105°E</text>
<text class="c c2" x="532.2" y="513.8" font-size="8.3">120°E</text>
<text class="c c2" x="590.1" y="513.8" font-size="8.3">135°E</text>
<text class="c c2" x="648.1" y="513.8" font-size="8.3">150°E</text>
<text class="c c2" x="706.0" y="513.8" font-size="8.3">165°E</text>
<text class="c c2" x="763.9" y="513.8" font-size="8.3">180°</text>
<text class="y" x="443.4" y="499.5" font-size="8.3">0°</text>
<text class="y" x="443.4" y="460.8" font-size="8.3">10°N</text>
<text class="y" x="443.4" y="422.0" font-size="8.3">20°N</text>
<text class="y" x="443.4" y="383.3" font-size="8.3">30°N</text>
<text class="y" x="443.4" y="344.5" font-size="8.3">40°N</text>
<text class="y" x="443.4" y="305.8" font-size="8.3">50°N</text>
<text class="t" x="609.6" y="288.5" font-size="12.15">1953_500hpa_hgt</text>
<text class="c" x="537.5" y="323.7" font-size="8.8" transform="rotate(8 537.5 320.5)">5720</text>
<text class="c" x="545" y="354.9" font-size="8.8" transform="rotate(5 545 351.75)">5800</text>
<text class="c" x="633.75" y="332.4" font-size="8.8" transform="rotate(3 633.75 329.25)">5720</text>
<text class="c" x="672.5" y="356.2" font-size="8.8" transform="rotate(-5 672.5 353)">5800</text>
<rect x="473.25" y="523" width="34.08" height="16.50" fill="#8420F0" stroke="#444" stroke-width=".5"/>
<rect x="507.33" y="523" width="34.08" height="16.50" fill="#2D4BE4" stroke="#444" stroke-width=".5"/>
<rect x="541.41" y="523" width="34.08" height="16.50" fill="#12A0FF" stroke="#444" stroke-width=".5"/>
<rect x="575.49" y="523" width="34.08" height="16.50" fill="#96D2F0" stroke="#444" stroke-width=".5"/>
<rect x="609.57" y="523" width="34.08" height="16.50" fill="#FFE848" stroke="#444" stroke-width=".5"/>
<rect x="643.65" y="523" width="34.08" height="16.50" fill="#FF8C00" stroke="#444" stroke-width=".5"/>
<rect x="677.73" y="523" width="34.08" height="16.50" fill="#EE0000" stroke="#444" stroke-width=".5"/>
<rect x="711.81" y="523" width="34.08" height="16.50" fill="#FFB4B4" stroke="#444" stroke-width=".5"/>
<text class="c" x="507.3" y="551.7" font-size="8.8">5640</text>
<text class="c" x="541.4" y="551.7" font-size="8.8">5680</text>
<text class="c" x="575.5" y="551.7" font-size="8.8">5720</text>
<text class="c" x="609.6" y="551.7" font-size="8.8">5760</text>
<text class="c" x="643.6" y="551.7" font-size="8.8">5800</text>
<text class="c" x="677.7" y="551.7" font-size="8.8">5840</text>
<text class="c" x="711.8" y="551.7" font-size="8.8">5880</text>
</g>
</g></svg></body></html>
